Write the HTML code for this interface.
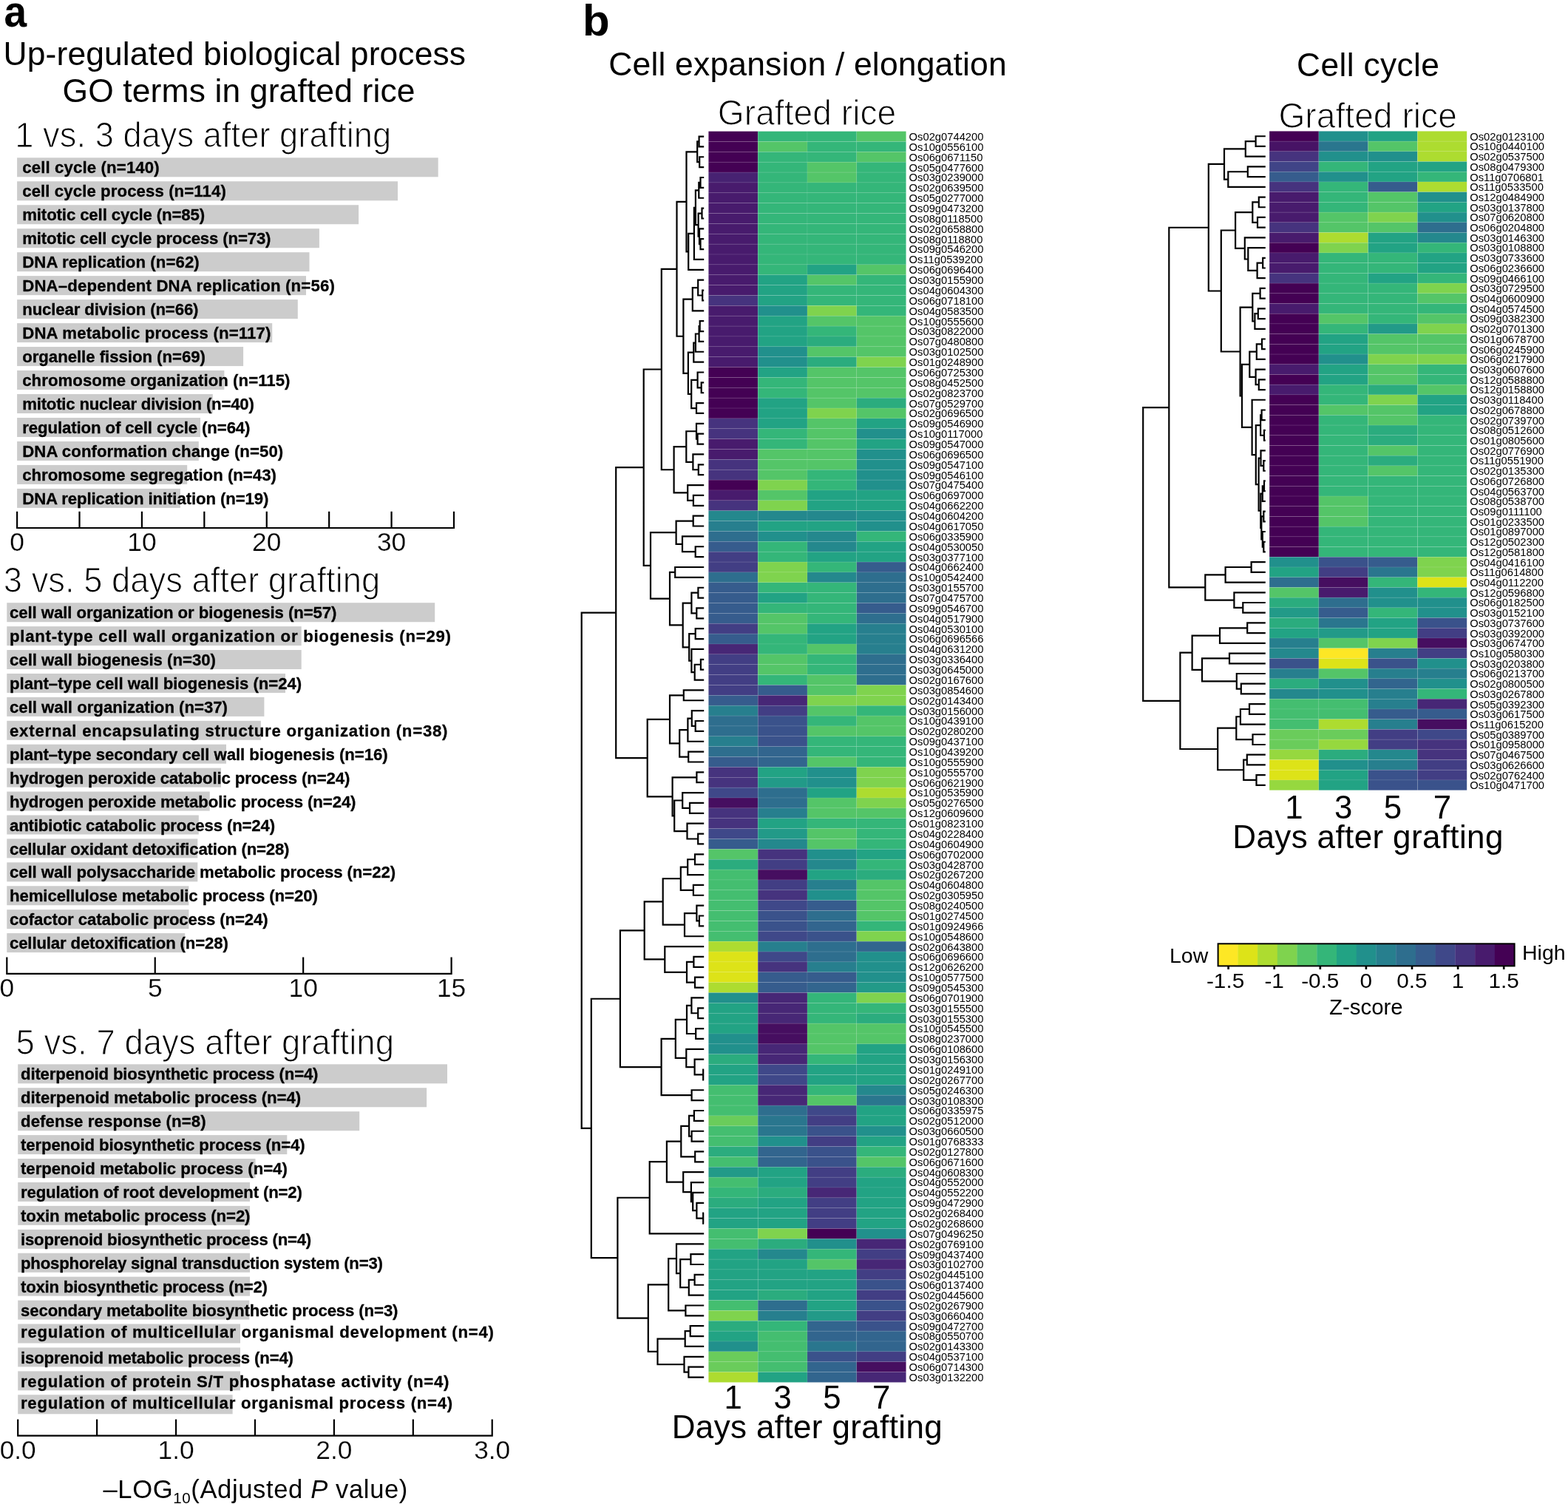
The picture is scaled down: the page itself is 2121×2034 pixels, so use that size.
<!DOCTYPE html>
<html lang="en"><head><meta charset="utf-8"><title>Figure</title>
<style>
html,body{margin:0;padding:0;background:#fff}
svg{display:block}
text{font-family:"Liberation Sans",sans-serif;fill:#000}
.b{font-weight:bold}
.lab{font-weight:bold;font-size:22.2px;stroke:#000;stroke-width:.3px}
.lt{stroke:#fff;stroke-width:1.15px}
.g{font-size:14.75px}
.tk{font-size:35.3px;stroke:#fff;stroke-width:.25px}
.ax{stroke:#000;stroke-width:2.2;fill:none}
.dn{stroke:#000;stroke-width:2.2;fill:none;stroke-linecap:butt;stroke-linejoin:miter}
.hm rect{stroke:rgba(255,255,255,.12);stroke-width:.7}
</style></head><body>
<svg width="2121" height="2034" viewBox="0 0 2121 2034">
<rect width="2121" height="2034" fill="#fff"/>
<text x="5.4" y="35.5" class="b" font-size="58.8" textLength="30.6" lengthAdjust="spacingAndGlyphs">a</text>
<text x="4.6" y="88.3" font-size="44.4" textLength="625.4" lengthAdjust="spacing">Up-regulated biological process</text>
<text x="84.5" y="137.8" font-size="44.4" textLength="477" lengthAdjust="spacing">GO terms in grafted rice</text>
<text x="20.3" y="199.2" class="lt" font-size="47.6" textLength="509" lengthAdjust="spacingAndGlyphs">1 vs. 3 days after grafting</text>
<g fill="#ccc">
<rect x="23.1" y="213.3" width="569.6" height="26"/>
<rect x="23.1" y="245.27" width="514.9" height="26"/>
<rect x="23.1" y="277.24" width="462" height="26"/>
<rect x="23.1" y="309.21" width="408.8" height="26"/>
<rect x="23.1" y="341.18" width="395.4" height="26"/>
<rect x="23.1" y="373.15" width="390.9" height="26"/>
<rect x="23.1" y="405.12" width="379.7" height="26"/>
<rect x="23.1" y="437.09" width="345.1" height="26"/>
<rect x="23.1" y="469.06" width="306" height="26"/>
<rect x="23.1" y="501.03" width="280.3" height="26"/>
<rect x="23.1" y="533" width="264.7" height="26"/>
<rect x="23.1" y="564.97" width="247.9" height="26"/>
<rect x="23.1" y="596.94" width="245.7" height="26"/>
<rect x="23.1" y="628.91" width="230.1" height="26"/>
<rect x="23.1" y="660.88" width="220.8" height="26"/>
</g>
<text x="30.2" y="234.4" class="lab" textLength="185.5" lengthAdjust="spacing">cell cycle (n=140)</text>
<text x="30.2" y="266.37" class="lab" textLength="275.6" lengthAdjust="spacing">cell cycle process (n=114)</text>
<text x="30.2" y="298.34" class="lab" textLength="246.9" lengthAdjust="spacing">mitotic cell cycle (n=85)</text>
<text x="30.2" y="330.31" class="lab" textLength="336.3" lengthAdjust="spacing">mitotic cell cycle process (n=73)</text>
<text x="30.2" y="362.28" class="lab" textLength="239.5" lengthAdjust="spacing">DNA replication (n=62)</text>
<text x="30.2" y="394.25" class="lab" textLength="422.6" lengthAdjust="spacing">DNA–dependent DNA replication (n=56)</text>
<text x="30.2" y="426.22" class="lab" textLength="238.3" lengthAdjust="spacing">nuclear division (n=66)</text>
<text x="30.2" y="458.19" class="lab" textLength="336.3" lengthAdjust="spacing">DNA metabolic process (n=117)</text>
<text x="30.2" y="490.16" class="lab" textLength="247.7" lengthAdjust="spacing">organelle fission (n=69)</text>
<text x="30.2" y="522.13" class="lab" textLength="362.3" lengthAdjust="spacing">chromosome organization (n=115)</text>
<text x="30.2" y="554.1" class="lab" textLength="313.6" lengthAdjust="spacing">mitotic nuclear division (n=40)</text>
<text x="30.2" y="586.07" class="lab" textLength="308.3" lengthAdjust="spacing">regulation of cell cycle (n=64)</text>
<text x="30.2" y="618.04" class="lab" textLength="353" lengthAdjust="spacing">DNA conformation change (n=50)</text>
<text x="30.2" y="650.01" class="lab" textLength="343.7" lengthAdjust="spacing">chromosome segregation (n=43)</text>
<text x="30.2" y="681.98" class="lab" textLength="333.3" lengthAdjust="spacing">DNA replication initiation (n=19)</text>
<path class="ax" d="M22 714H615.07M23.1 691.7V714M107.51 691.7V714M191.92 691.7V714M276.33 691.7V714M360.74 691.7V714M445.15 691.7V714M529.56 691.7V714M613.97 691.7V714"/>
<text x="23.1" y="744.7" class="tk" text-anchor="middle">0</text>
<text x="191.92" y="744.7" class="tk" text-anchor="middle">10</text>
<text x="360.74" y="744.7" class="tk" text-anchor="middle">20</text>
<text x="529.56" y="744.7" class="tk" text-anchor="middle">30</text>
<text x="4.8" y="801" class="lt" font-size="47.6" textLength="509.4" lengthAdjust="spacingAndGlyphs">3 vs. 5 days after grafting</text>
<g fill="#ccc">
<rect x="9.3" y="815.2" width="578.9" height="26"/>
<rect x="9.3" y="847.12" width="398.4" height="26"/>
<rect x="9.3" y="879.04" width="398.4" height="26"/>
<rect x="9.3" y="910.96" width="376.7" height="26"/>
<rect x="9.3" y="942.88" width="348.1" height="26"/>
<rect x="9.3" y="974.8" width="343.6" height="26"/>
<rect x="9.3" y="1006.72" width="296.7" height="26"/>
<rect x="9.3" y="1038.64" width="289.7" height="26"/>
<rect x="9.3" y="1070.56" width="274.4" height="26"/>
<rect x="9.3" y="1102.48" width="259.5" height="26"/>
<rect x="9.3" y="1134.4" width="258" height="26"/>
<rect x="9.3" y="1166.32" width="258" height="26"/>
<rect x="9.3" y="1198.24" width="246.1" height="26"/>
<rect x="9.3" y="1230.16" width="246.1" height="26"/>
<rect x="9.3" y="1262.08" width="240.9" height="26"/>
</g>
<text x="13" y="836.3" class="lab" textLength="442.5" lengthAdjust="spacing">cell wall organization or biogenesis (n=57)</text>
<text x="13" y="868.22" class="lab" textLength="597" lengthAdjust="spacing">plant-type cell wall organization or biogenesis (n=29)</text>
<text x="13" y="900.14" class="lab" textLength="279" lengthAdjust="spacing">cell wall biogenesis (n=30)</text>
<text x="13" y="932.06" class="lab" textLength="395.2" lengthAdjust="spacing">plant–type cell wall biogenesis (n=24)</text>
<text x="13" y="963.98" class="lab" textLength="295" lengthAdjust="spacing">cell wall organization (n=37)</text>
<text x="13" y="995.9" class="lab" textLength="592.5" lengthAdjust="spacing">external encapsulating structure organization (n=38)</text>
<text x="13" y="1027.82" class="lab" textLength="511.7" lengthAdjust="spacing">plant–type secondary cell wall biogenesis (n=16)</text>
<text x="13" y="1059.74" class="lab" textLength="460.3" lengthAdjust="spacing">hydrogen peroxide catabolic process (n=24)</text>
<text x="13" y="1091.66" class="lab" textLength="468.5" lengthAdjust="spacing">hydrogen peroxide metabolic process (n=24)</text>
<text x="13" y="1123.58" class="lab" textLength="359.1" lengthAdjust="spacing">antibiotic catabolic process (n=24)</text>
<text x="13" y="1155.5" class="lab" textLength="378.5" lengthAdjust="spacing">cellular oxidant detoxification (n=28)</text>
<text x="13" y="1187.42" class="lab" textLength="522.1" lengthAdjust="spacing">cell wall polysaccharide metabolic process (n=22)</text>
<text x="13" y="1219.34" class="lab" textLength="416.8" lengthAdjust="spacing">hemicellulose metabolic process (n=20)</text>
<text x="13" y="1251.26" class="lab" textLength="349.7" lengthAdjust="spacing">cofactor catabolic process (n=24)</text>
<text x="13" y="1283.18" class="lab" textLength="295.8" lengthAdjust="spacing">cellular detoxification (n=28)</text>
<path class="ax" d="M8.2 1316.8H611.69M9.3 1294.6V1316.8M209.73 1294.6V1316.8M410.16 1294.6V1316.8M610.59 1294.6V1316.8"/>
<text x="9.3" y="1347.6" class="tk" text-anchor="middle">0</text>
<text x="209.73" y="1347.6" class="tk" text-anchor="middle">5</text>
<text x="410.16" y="1347.6" class="tk" text-anchor="middle">10</text>
<text x="610.59" y="1347.6" class="tk" text-anchor="middle">15</text>
<text x="21.6" y="1425.7" class="lt" font-size="47.6" textLength="511.4" lengthAdjust="spacingAndGlyphs">5 vs. 7 days after grafting</text>
<g fill="#ccc">
<rect x="24.2" y="1439.3" width="580.8" height="26"/>
<rect x="24.2" y="1471.23" width="552.9" height="26"/>
<rect x="24.2" y="1503.16" width="462" height="26"/>
<rect x="24.2" y="1535.09" width="364.1" height="26"/>
<rect x="24.2" y="1567.02" width="321.3" height="26"/>
<rect x="24.2" y="1598.95" width="313.8" height="26"/>
<rect x="24.2" y="1630.88" width="313.8" height="26"/>
<rect x="24.2" y="1662.81" width="313.8" height="26"/>
<rect x="24.2" y="1694.74" width="313.8" height="26"/>
<rect x="24.2" y="1726.67" width="313.8" height="26"/>
<rect x="24.2" y="1758.6" width="313.1" height="26"/>
<rect x="24.2" y="1790.53" width="300.8" height="26"/>
<rect x="24.2" y="1822.46" width="300.8" height="26"/>
<rect x="24.2" y="1854.39" width="300.8" height="26"/>
<rect x="24.2" y="1886.32" width="290.4" height="26"/>
</g>
<text x="28" y="1460.4" class="lab" textLength="402.5" lengthAdjust="spacing">diterpenoid biosynthetic process (n=4)</text>
<text x="28" y="1492.33" class="lab" textLength="379.1" lengthAdjust="spacing">diterpenoid metabolic process (n=4)</text>
<text x="28" y="1524.26" class="lab" textLength="250.6" lengthAdjust="spacing">defense response (n=8)</text>
<text x="28" y="1556.19" class="lab" textLength="384.6" lengthAdjust="spacing">terpenoid biosynthetic process (n=4)</text>
<text x="28" y="1588.12" class="lab" textLength="360.8" lengthAdjust="spacing">terpenoid metabolic process (n=4)</text>
<text x="28" y="1620.05" class="lab" textLength="380.9" lengthAdjust="spacing">regulation of root development (n=2)</text>
<text x="28" y="1651.98" class="lab" textLength="310.5" lengthAdjust="spacing">toxin metabolic process (n=2)</text>
<text x="28" y="1683.91" class="lab" textLength="393.2" lengthAdjust="spacing">isoprenoid biosynthetic process (n=4)</text>
<text x="28" y="1715.84" class="lab" textLength="490" lengthAdjust="spacing">phosphorelay signal transduction system (n=3)</text>
<text x="28" y="1747.77" class="lab" textLength="334" lengthAdjust="spacing">toxin biosynthetic process (n=2)</text>
<text x="28" y="1779.7" class="lab" textLength="510.5" lengthAdjust="spacing">secondary metabolite biosynthetic process (n=3)</text>
<text x="28" y="1809.03" class="lab" textLength="640" lengthAdjust="spacing">regulation of multicellular organismal development (n=4)</text>
<text x="28" y="1844.06" class="lab" textLength="369" lengthAdjust="spacing">isoprenoid metabolic process (n=4)</text>
<text x="28" y="1875.79" class="lab" textLength="579.4" lengthAdjust="spacing">regulation of protein S/T phosphatase activity (n=4)</text>
<text x="28" y="1904.72" class="lab" textLength="584.2" lengthAdjust="spacing">regulation of multicellular organismal process (n=4)</text>
<path class="ax" d="M23.1 1941.6H666.82M24.2 1919.6V1941.6M131.12 1919.6V1941.6M238.04 1919.6V1941.6M344.96 1919.6V1941.6M451.88 1919.6V1941.6M558.8 1919.6V1941.6M665.72 1919.6V1941.6"/>
<text x="24.2" y="1972.9" class="tk" text-anchor="middle">0.0</text>
<text x="238.04" y="1972.9" class="tk" text-anchor="middle">1.0</text>
<text x="451.88" y="1972.9" class="tk" text-anchor="middle">2.0</text>
<text x="665.72" y="1972.9" class="tk" text-anchor="middle">3.0</text>
<text x="139.5" y="2026.3" font-size="34.6" letter-spacing="0.62">–LOG<tspan font-size="20.5" dy="6.3">10</tspan><tspan dy="-6.3">(Adjusted </tspan><tspan font-style="italic">P</tspan> value)</text>
<text x="788" y="48" class="b" font-size="60">b</text>
<text x="823.3" y="101.9" font-size="44.5" textLength="538.4" lengthAdjust="spacing">Cell expansion / elongation</text>
<text x="970.8" y="168.9" class="lt" font-size="47.2" textLength="241.4" lengthAdjust="spacingAndGlyphs">Grafted rice</text>
<text x="1754.1" y="102.9" font-size="44.3" textLength="192.8" lengthAdjust="spacing">Cell cycle</text>
<text x="1729.4" y="173.2" class="lt" font-size="47.2" textLength="241.5" lengthAdjust="spacingAndGlyphs">Grafted rice</text>
<g class="hm">
<rect x="958.4" y="177.6" width="66.8" height="13.87" fill="#440154"/>
<rect x="1025.2" y="177.6" width="66.8" height="13.87" fill="#34b679"/>
<rect x="1092" y="177.6" width="66.8" height="13.87" fill="#34b679"/>
<rect x="1158.8" y="177.6" width="66.8" height="13.87" fill="#54c568"/>
<rect x="958.4" y="191.47" width="66.8" height="13.87" fill="#440154"/>
<rect x="1025.2" y="191.47" width="66.8" height="13.87" fill="#54c568"/>
<rect x="1092" y="191.47" width="66.8" height="13.87" fill="#34b679"/>
<rect x="1158.8" y="191.47" width="66.8" height="13.87" fill="#34b679"/>
<rect x="958.4" y="205.34" width="66.8" height="13.87" fill="#440154"/>
<rect x="1025.2" y="205.34" width="66.8" height="13.87" fill="#34b679"/>
<rect x="1092" y="205.34" width="66.8" height="13.87" fill="#34b679"/>
<rect x="1158.8" y="205.34" width="66.8" height="13.87" fill="#54c568"/>
<rect x="958.4" y="219.2" width="66.8" height="13.87" fill="#440154"/>
<rect x="1025.2" y="219.2" width="66.8" height="13.87" fill="#34b679"/>
<rect x="1092" y="219.2" width="66.8" height="13.87" fill="#54c568"/>
<rect x="1158.8" y="219.2" width="66.8" height="13.87" fill="#34b679"/>
<rect x="958.4" y="233.07" width="66.8" height="13.87" fill="#472272"/>
<rect x="1025.2" y="233.07" width="66.8" height="13.87" fill="#34b679"/>
<rect x="1092" y="233.07" width="66.8" height="13.87" fill="#54c568"/>
<rect x="1158.8" y="233.07" width="66.8" height="13.87" fill="#34b679"/>
<rect x="958.4" y="246.94" width="66.8" height="13.87" fill="#481b6d"/>
<rect x="1025.2" y="246.94" width="66.8" height="13.87" fill="#34b679"/>
<rect x="1092" y="246.94" width="66.8" height="13.87" fill="#34b679"/>
<rect x="1158.8" y="246.94" width="66.8" height="13.87" fill="#34b679"/>
<rect x="958.4" y="260.81" width="66.8" height="13.87" fill="#481b6d"/>
<rect x="1025.2" y="260.81" width="66.8" height="13.87" fill="#34b679"/>
<rect x="1092" y="260.81" width="66.8" height="13.87" fill="#34b679"/>
<rect x="1158.8" y="260.81" width="66.8" height="13.87" fill="#34b679"/>
<rect x="958.4" y="274.68" width="66.8" height="13.87" fill="#481b6d"/>
<rect x="1025.2" y="274.68" width="66.8" height="13.87" fill="#34b679"/>
<rect x="1092" y="274.68" width="66.8" height="13.87" fill="#34b679"/>
<rect x="1158.8" y="274.68" width="66.8" height="13.87" fill="#34b679"/>
<rect x="958.4" y="288.54" width="66.8" height="13.87" fill="#481b6d"/>
<rect x="1025.2" y="288.54" width="66.8" height="13.87" fill="#34b679"/>
<rect x="1092" y="288.54" width="66.8" height="13.87" fill="#34b679"/>
<rect x="1158.8" y="288.54" width="66.8" height="13.87" fill="#34b679"/>
<rect x="958.4" y="302.41" width="66.8" height="13.87" fill="#481b6d"/>
<rect x="1025.2" y="302.41" width="66.8" height="13.87" fill="#34b679"/>
<rect x="1092" y="302.41" width="66.8" height="13.87" fill="#34b679"/>
<rect x="1158.8" y="302.41" width="66.8" height="13.87" fill="#34b679"/>
<rect x="958.4" y="316.28" width="66.8" height="13.87" fill="#481b6d"/>
<rect x="1025.2" y="316.28" width="66.8" height="13.87" fill="#34b679"/>
<rect x="1092" y="316.28" width="66.8" height="13.87" fill="#34b679"/>
<rect x="1158.8" y="316.28" width="66.8" height="13.87" fill="#34b679"/>
<rect x="958.4" y="330.15" width="66.8" height="13.87" fill="#481b6d"/>
<rect x="1025.2" y="330.15" width="66.8" height="13.87" fill="#34b679"/>
<rect x="1092" y="330.15" width="66.8" height="13.87" fill="#34b679"/>
<rect x="1158.8" y="330.15" width="66.8" height="13.87" fill="#34b679"/>
<rect x="958.4" y="344.02" width="66.8" height="13.87" fill="#481b6d"/>
<rect x="1025.2" y="344.02" width="66.8" height="13.87" fill="#34b679"/>
<rect x="1092" y="344.02" width="66.8" height="13.87" fill="#34b679"/>
<rect x="1158.8" y="344.02" width="66.8" height="13.87" fill="#34b679"/>
<rect x="958.4" y="357.88" width="66.8" height="13.87" fill="#481b6d"/>
<rect x="1025.2" y="357.88" width="66.8" height="13.87" fill="#34b679"/>
<rect x="1092" y="357.88" width="66.8" height="13.87" fill="#22a384"/>
<rect x="1158.8" y="357.88" width="66.8" height="13.87" fill="#54c568"/>
<rect x="958.4" y="371.75" width="66.8" height="13.87" fill="#481b6d"/>
<rect x="1025.2" y="371.75" width="66.8" height="13.87" fill="#22a384"/>
<rect x="1092" y="371.75" width="66.8" height="13.87" fill="#54c568"/>
<rect x="1158.8" y="371.75" width="66.8" height="13.87" fill="#34b679"/>
<rect x="958.4" y="385.62" width="66.8" height="13.87" fill="#481b6d"/>
<rect x="1025.2" y="385.62" width="66.8" height="13.87" fill="#22a384"/>
<rect x="1092" y="385.62" width="66.8" height="13.87" fill="#34b679"/>
<rect x="1158.8" y="385.62" width="66.8" height="13.87" fill="#34b679"/>
<rect x="958.4" y="399.49" width="66.8" height="13.87" fill="#46337e"/>
<rect x="1025.2" y="399.49" width="66.8" height="13.87" fill="#22a384"/>
<rect x="1092" y="399.49" width="66.8" height="13.87" fill="#34b679"/>
<rect x="1158.8" y="399.49" width="66.8" height="13.87" fill="#34b679"/>
<rect x="958.4" y="413.36" width="66.8" height="13.87" fill="#481b6d"/>
<rect x="1025.2" y="413.36" width="66.8" height="13.87" fill="#21908c"/>
<rect x="1092" y="413.36" width="66.8" height="13.87" fill="#7fd34e"/>
<rect x="1158.8" y="413.36" width="66.8" height="13.87" fill="#34b679"/>
<rect x="958.4" y="427.22" width="66.8" height="13.87" fill="#481b6d"/>
<rect x="1025.2" y="427.22" width="66.8" height="13.87" fill="#22a384"/>
<rect x="1092" y="427.22" width="66.8" height="13.87" fill="#54c568"/>
<rect x="1158.8" y="427.22" width="66.8" height="13.87" fill="#54c568"/>
<rect x="958.4" y="441.09" width="66.8" height="13.87" fill="#481b6d"/>
<rect x="1025.2" y="441.09" width="66.8" height="13.87" fill="#22a384"/>
<rect x="1092" y="441.09" width="66.8" height="13.87" fill="#34b679"/>
<rect x="1158.8" y="441.09" width="66.8" height="13.87" fill="#54c568"/>
<rect x="958.4" y="454.96" width="66.8" height="13.87" fill="#481b6d"/>
<rect x="1025.2" y="454.96" width="66.8" height="13.87" fill="#22a384"/>
<rect x="1092" y="454.96" width="66.8" height="13.87" fill="#2bac7e"/>
<rect x="1158.8" y="454.96" width="66.8" height="13.87" fill="#54c568"/>
<rect x="958.4" y="468.83" width="66.8" height="13.87" fill="#481b6d"/>
<rect x="1025.2" y="468.83" width="66.8" height="13.87" fill="#21908c"/>
<rect x="1092" y="468.83" width="66.8" height="13.87" fill="#54c568"/>
<rect x="1158.8" y="468.83" width="66.8" height="13.87" fill="#54c568"/>
<rect x="958.4" y="482.7" width="66.8" height="13.87" fill="#481b6d"/>
<rect x="1025.2" y="482.7" width="66.8" height="13.87" fill="#21908c"/>
<rect x="1092" y="482.7" width="66.8" height="13.87" fill="#2bac7e"/>
<rect x="1158.8" y="482.7" width="66.8" height="13.87" fill="#7fd34e"/>
<rect x="958.4" y="496.56" width="66.8" height="13.87" fill="#440154"/>
<rect x="1025.2" y="496.56" width="66.8" height="13.87" fill="#22a384"/>
<rect x="1092" y="496.56" width="66.8" height="13.87" fill="#54c568"/>
<rect x="1158.8" y="496.56" width="66.8" height="13.87" fill="#54c568"/>
<rect x="958.4" y="510.43" width="66.8" height="13.87" fill="#440154"/>
<rect x="1025.2" y="510.43" width="66.8" height="13.87" fill="#34b679"/>
<rect x="1092" y="510.43" width="66.8" height="13.87" fill="#54c568"/>
<rect x="1158.8" y="510.43" width="66.8" height="13.87" fill="#54c568"/>
<rect x="958.4" y="524.3" width="66.8" height="13.87" fill="#440154"/>
<rect x="1025.2" y="524.3" width="66.8" height="13.87" fill="#34b679"/>
<rect x="1092" y="524.3" width="66.8" height="13.87" fill="#54c568"/>
<rect x="1158.8" y="524.3" width="66.8" height="13.87" fill="#54c568"/>
<rect x="958.4" y="538.17" width="66.8" height="13.87" fill="#440154"/>
<rect x="1025.2" y="538.17" width="66.8" height="13.87" fill="#22a384"/>
<rect x="1092" y="538.17" width="66.8" height="13.87" fill="#54c568"/>
<rect x="1158.8" y="538.17" width="66.8" height="13.87" fill="#2bac7e"/>
<rect x="958.4" y="552.04" width="66.8" height="13.87" fill="#440154"/>
<rect x="1025.2" y="552.04" width="66.8" height="13.87" fill="#22a384"/>
<rect x="1092" y="552.04" width="66.8" height="13.87" fill="#7fd34e"/>
<rect x="1158.8" y="552.04" width="66.8" height="13.87" fill="#54c568"/>
<rect x="958.4" y="565.9" width="66.8" height="13.87" fill="#46337e"/>
<rect x="1025.2" y="565.9" width="66.8" height="13.87" fill="#22a384"/>
<rect x="1092" y="565.9" width="66.8" height="13.87" fill="#54c568"/>
<rect x="1158.8" y="565.9" width="66.8" height="13.87" fill="#22a384"/>
<rect x="958.4" y="579.77" width="66.8" height="13.87" fill="#46337e"/>
<rect x="1025.2" y="579.77" width="66.8" height="13.87" fill="#34b679"/>
<rect x="1092" y="579.77" width="66.8" height="13.87" fill="#54c568"/>
<rect x="1158.8" y="579.77" width="66.8" height="13.87" fill="#21908c"/>
<rect x="958.4" y="593.64" width="66.8" height="13.87" fill="#481b6d"/>
<rect x="1025.2" y="593.64" width="66.8" height="13.87" fill="#34b679"/>
<rect x="1092" y="593.64" width="66.8" height="13.87" fill="#54c568"/>
<rect x="1158.8" y="593.64" width="66.8" height="13.87" fill="#22a384"/>
<rect x="958.4" y="607.51" width="66.8" height="13.87" fill="#481b6d"/>
<rect x="1025.2" y="607.51" width="66.8" height="13.87" fill="#54c568"/>
<rect x="1092" y="607.51" width="66.8" height="13.87" fill="#54c568"/>
<rect x="1158.8" y="607.51" width="66.8" height="13.87" fill="#21908c"/>
<rect x="958.4" y="621.38" width="66.8" height="13.87" fill="#46337e"/>
<rect x="1025.2" y="621.38" width="66.8" height="13.87" fill="#54c568"/>
<rect x="1092" y="621.38" width="66.8" height="13.87" fill="#54c568"/>
<rect x="1158.8" y="621.38" width="66.8" height="13.87" fill="#21908c"/>
<rect x="958.4" y="635.24" width="66.8" height="13.87" fill="#46337e"/>
<rect x="1025.2" y="635.24" width="66.8" height="13.87" fill="#54c568"/>
<rect x="1092" y="635.24" width="66.8" height="13.87" fill="#34b679"/>
<rect x="1158.8" y="635.24" width="66.8" height="13.87" fill="#21908c"/>
<rect x="958.4" y="649.11" width="66.8" height="13.87" fill="#440154"/>
<rect x="1025.2" y="649.11" width="66.8" height="13.87" fill="#7fd34e"/>
<rect x="1092" y="649.11" width="66.8" height="13.87" fill="#34b679"/>
<rect x="1158.8" y="649.11" width="66.8" height="13.87" fill="#21908c"/>
<rect x="958.4" y="662.98" width="66.8" height="13.87" fill="#481b6d"/>
<rect x="1025.2" y="662.98" width="66.8" height="13.87" fill="#54c568"/>
<rect x="1092" y="662.98" width="66.8" height="13.87" fill="#22a384"/>
<rect x="1158.8" y="662.98" width="66.8" height="13.87" fill="#22a384"/>
<rect x="958.4" y="676.85" width="66.8" height="13.87" fill="#46337e"/>
<rect x="1025.2" y="676.85" width="66.8" height="13.87" fill="#7fd34e"/>
<rect x="1092" y="676.85" width="66.8" height="13.87" fill="#22a384"/>
<rect x="1158.8" y="676.85" width="66.8" height="13.87" fill="#22a384"/>
<rect x="958.4" y="690.72" width="66.8" height="13.87" fill="#24888d"/>
<rect x="1025.2" y="690.72" width="66.8" height="13.87" fill="#24888d"/>
<rect x="1092" y="690.72" width="66.8" height="13.87" fill="#24888d"/>
<rect x="1158.8" y="690.72" width="66.8" height="13.87" fill="#21908c"/>
<rect x="958.4" y="704.58" width="66.8" height="13.87" fill="#277f8e"/>
<rect x="1025.2" y="704.58" width="66.8" height="13.87" fill="#22a384"/>
<rect x="1092" y="704.58" width="66.8" height="13.87" fill="#22a384"/>
<rect x="1158.8" y="704.58" width="66.8" height="13.87" fill="#21908c"/>
<rect x="958.4" y="718.45" width="66.8" height="13.87" fill="#2e6e8e"/>
<rect x="1025.2" y="718.45" width="66.8" height="13.87" fill="#21908c"/>
<rect x="1092" y="718.45" width="66.8" height="13.87" fill="#24888d"/>
<rect x="1158.8" y="718.45" width="66.8" height="13.87" fill="#34b679"/>
<rect x="958.4" y="732.32" width="66.8" height="13.87" fill="#365c8d"/>
<rect x="1025.2" y="732.32" width="66.8" height="13.87" fill="#34b679"/>
<rect x="1092" y="732.32" width="66.8" height="13.87" fill="#24888d"/>
<rect x="1158.8" y="732.32" width="66.8" height="13.87" fill="#22a384"/>
<rect x="958.4" y="746.19" width="66.8" height="13.87" fill="#423e84"/>
<rect x="1025.2" y="746.19" width="66.8" height="13.87" fill="#34b679"/>
<rect x="1092" y="746.19" width="66.8" height="13.87" fill="#22a384"/>
<rect x="1158.8" y="746.19" width="66.8" height="13.87" fill="#22a384"/>
<rect x="958.4" y="760.06" width="66.8" height="13.87" fill="#423e84"/>
<rect x="1025.2" y="760.06" width="66.8" height="13.87" fill="#7fd34e"/>
<rect x="1092" y="760.06" width="66.8" height="13.87" fill="#34b679"/>
<rect x="1158.8" y="760.06" width="66.8" height="13.87" fill="#365c8d"/>
<rect x="958.4" y="773.92" width="66.8" height="13.87" fill="#2e6e8e"/>
<rect x="1025.2" y="773.92" width="66.8" height="13.87" fill="#7fd34e"/>
<rect x="1092" y="773.92" width="66.8" height="13.87" fill="#24888d"/>
<rect x="1158.8" y="773.92" width="66.8" height="13.87" fill="#2e6e8e"/>
<rect x="958.4" y="787.79" width="66.8" height="13.87" fill="#365c8d"/>
<rect x="1025.2" y="787.79" width="66.8" height="13.87" fill="#34b679"/>
<rect x="1092" y="787.79" width="66.8" height="13.87" fill="#34b679"/>
<rect x="1158.8" y="787.79" width="66.8" height="13.87" fill="#2e6e8e"/>
<rect x="958.4" y="801.66" width="66.8" height="13.87" fill="#365c8d"/>
<rect x="1025.2" y="801.66" width="66.8" height="13.87" fill="#22a384"/>
<rect x="1092" y="801.66" width="66.8" height="13.87" fill="#34b679"/>
<rect x="1158.8" y="801.66" width="66.8" height="13.87" fill="#2e6e8e"/>
<rect x="958.4" y="815.53" width="66.8" height="13.87" fill="#365c8d"/>
<rect x="1025.2" y="815.53" width="66.8" height="13.87" fill="#34b679"/>
<rect x="1092" y="815.53" width="66.8" height="13.87" fill="#34b679"/>
<rect x="1158.8" y="815.53" width="66.8" height="13.87" fill="#365c8d"/>
<rect x="958.4" y="829.4" width="66.8" height="13.87" fill="#365c8d"/>
<rect x="1025.2" y="829.4" width="66.8" height="13.87" fill="#54c568"/>
<rect x="1092" y="829.4" width="66.8" height="13.87" fill="#34b679"/>
<rect x="1158.8" y="829.4" width="66.8" height="13.87" fill="#2e6e8e"/>
<rect x="958.4" y="843.26" width="66.8" height="13.87" fill="#423e84"/>
<rect x="1025.2" y="843.26" width="66.8" height="13.87" fill="#54c568"/>
<rect x="1092" y="843.26" width="66.8" height="13.87" fill="#22a384"/>
<rect x="1158.8" y="843.26" width="66.8" height="13.87" fill="#277f8e"/>
<rect x="958.4" y="857.13" width="66.8" height="13.87" fill="#365c8d"/>
<rect x="1025.2" y="857.13" width="66.8" height="13.87" fill="#34b679"/>
<rect x="1092" y="857.13" width="66.8" height="13.87" fill="#22a384"/>
<rect x="1158.8" y="857.13" width="66.8" height="13.87" fill="#277f8e"/>
<rect x="958.4" y="871" width="66.8" height="13.87" fill="#472776"/>
<rect x="1025.2" y="871" width="66.8" height="13.87" fill="#34b679"/>
<rect x="1092" y="871" width="66.8" height="13.87" fill="#54c568"/>
<rect x="1158.8" y="871" width="66.8" height="13.87" fill="#277f8e"/>
<rect x="958.4" y="884.87" width="66.8" height="13.87" fill="#423e84"/>
<rect x="1025.2" y="884.87" width="66.8" height="13.87" fill="#54c568"/>
<rect x="1092" y="884.87" width="66.8" height="13.87" fill="#34b679"/>
<rect x="1158.8" y="884.87" width="66.8" height="13.87" fill="#2e6e8e"/>
<rect x="958.4" y="898.74" width="66.8" height="13.87" fill="#423e84"/>
<rect x="1025.2" y="898.74" width="66.8" height="13.87" fill="#54c568"/>
<rect x="1092" y="898.74" width="66.8" height="13.87" fill="#34b679"/>
<rect x="1158.8" y="898.74" width="66.8" height="13.87" fill="#2e6e8e"/>
<rect x="958.4" y="912.6" width="66.8" height="13.87" fill="#423e84"/>
<rect x="1025.2" y="912.6" width="66.8" height="13.87" fill="#34b679"/>
<rect x="1092" y="912.6" width="66.8" height="13.87" fill="#54c568"/>
<rect x="1158.8" y="912.6" width="66.8" height="13.87" fill="#2e6e8e"/>
<rect x="958.4" y="926.47" width="66.8" height="13.87" fill="#423e84"/>
<rect x="1025.2" y="926.47" width="66.8" height="13.87" fill="#365c8d"/>
<rect x="1092" y="926.47" width="66.8" height="13.87" fill="#54c568"/>
<rect x="1158.8" y="926.47" width="66.8" height="13.87" fill="#7fd34e"/>
<rect x="958.4" y="940.34" width="66.8" height="13.87" fill="#365c8d"/>
<rect x="1025.2" y="940.34" width="66.8" height="13.87" fill="#472776"/>
<rect x="1092" y="940.34" width="66.8" height="13.87" fill="#7fd34e"/>
<rect x="1158.8" y="940.34" width="66.8" height="13.87" fill="#7fd34e"/>
<rect x="958.4" y="954.21" width="66.8" height="13.87" fill="#277f8e"/>
<rect x="1025.2" y="954.21" width="66.8" height="13.87" fill="#423e84"/>
<rect x="1092" y="954.21" width="66.8" height="13.87" fill="#54c568"/>
<rect x="1158.8" y="954.21" width="66.8" height="13.87" fill="#34b679"/>
<rect x="958.4" y="968.08" width="66.8" height="13.87" fill="#2e6e8e"/>
<rect x="1025.2" y="968.08" width="66.8" height="13.87" fill="#3a528b"/>
<rect x="1092" y="968.08" width="66.8" height="13.87" fill="#34b679"/>
<rect x="1158.8" y="968.08" width="66.8" height="13.87" fill="#54c568"/>
<rect x="958.4" y="981.94" width="66.8" height="13.87" fill="#2e6e8e"/>
<rect x="1025.2" y="981.94" width="66.8" height="13.87" fill="#3a528b"/>
<rect x="1092" y="981.94" width="66.8" height="13.87" fill="#54c568"/>
<rect x="1158.8" y="981.94" width="66.8" height="13.87" fill="#54c568"/>
<rect x="958.4" y="995.81" width="66.8" height="13.87" fill="#277f8e"/>
<rect x="1025.2" y="995.81" width="66.8" height="13.87" fill="#3a528b"/>
<rect x="1092" y="995.81" width="66.8" height="13.87" fill="#34b679"/>
<rect x="1158.8" y="995.81" width="66.8" height="13.87" fill="#34b679"/>
<rect x="958.4" y="1009.68" width="66.8" height="13.87" fill="#2e6e8e"/>
<rect x="1025.2" y="1009.68" width="66.8" height="13.87" fill="#32658e"/>
<rect x="1092" y="1009.68" width="66.8" height="13.87" fill="#34b679"/>
<rect x="1158.8" y="1009.68" width="66.8" height="13.87" fill="#34b679"/>
<rect x="958.4" y="1023.55" width="66.8" height="13.87" fill="#365c8d"/>
<rect x="1025.2" y="1023.55" width="66.8" height="13.87" fill="#32658e"/>
<rect x="1092" y="1023.55" width="66.8" height="13.87" fill="#54c568"/>
<rect x="1158.8" y="1023.55" width="66.8" height="13.87" fill="#34b679"/>
<rect x="958.4" y="1037.42" width="66.8" height="13.87" fill="#46337e"/>
<rect x="1025.2" y="1037.42" width="66.8" height="13.87" fill="#22a384"/>
<rect x="1092" y="1037.42" width="66.8" height="13.87" fill="#21908c"/>
<rect x="1158.8" y="1037.42" width="66.8" height="13.87" fill="#7fd34e"/>
<rect x="958.4" y="1051.28" width="66.8" height="13.87" fill="#46337e"/>
<rect x="1025.2" y="1051.28" width="66.8" height="13.87" fill="#229a88"/>
<rect x="1092" y="1051.28" width="66.8" height="13.87" fill="#21908c"/>
<rect x="1158.8" y="1051.28" width="66.8" height="13.87" fill="#7fd34e"/>
<rect x="958.4" y="1065.15" width="66.8" height="13.87" fill="#3f4889"/>
<rect x="1025.2" y="1065.15" width="66.8" height="13.87" fill="#2e6e8e"/>
<rect x="1092" y="1065.15" width="66.8" height="13.87" fill="#22a384"/>
<rect x="1158.8" y="1065.15" width="66.8" height="13.87" fill="#addc30"/>
<rect x="958.4" y="1079.02" width="66.8" height="13.87" fill="#460e60"/>
<rect x="1025.2" y="1079.02" width="66.8" height="13.87" fill="#2e6e8e"/>
<rect x="1092" y="1079.02" width="66.8" height="13.87" fill="#54c568"/>
<rect x="1158.8" y="1079.02" width="66.8" height="13.87" fill="#7fd34e"/>
<rect x="958.4" y="1092.89" width="66.8" height="13.87" fill="#46337e"/>
<rect x="1025.2" y="1092.89" width="66.8" height="13.87" fill="#277f8e"/>
<rect x="1092" y="1092.89" width="66.8" height="13.87" fill="#54c568"/>
<rect x="1158.8" y="1092.89" width="66.8" height="13.87" fill="#54c568"/>
<rect x="958.4" y="1106.76" width="66.8" height="13.87" fill="#46337e"/>
<rect x="1025.2" y="1106.76" width="66.8" height="13.87" fill="#22a384"/>
<rect x="1092" y="1106.76" width="66.8" height="13.87" fill="#34b679"/>
<rect x="1158.8" y="1106.76" width="66.8" height="13.87" fill="#34b679"/>
<rect x="958.4" y="1120.62" width="66.8" height="13.87" fill="#3f4889"/>
<rect x="1025.2" y="1120.62" width="66.8" height="13.87" fill="#229a88"/>
<rect x="1092" y="1120.62" width="66.8" height="13.87" fill="#54c568"/>
<rect x="1158.8" y="1120.62" width="66.8" height="13.87" fill="#34b679"/>
<rect x="958.4" y="1134.49" width="66.8" height="13.87" fill="#365c8d"/>
<rect x="1025.2" y="1134.49" width="66.8" height="13.87" fill="#24888d"/>
<rect x="1092" y="1134.49" width="66.8" height="13.87" fill="#54c568"/>
<rect x="1158.8" y="1134.49" width="66.8" height="13.87" fill="#34b679"/>
<rect x="958.4" y="1148.36" width="66.8" height="13.87" fill="#54c568"/>
<rect x="1025.2" y="1148.36" width="66.8" height="13.87" fill="#46337e"/>
<rect x="1092" y="1148.36" width="66.8" height="13.87" fill="#21908c"/>
<rect x="1158.8" y="1148.36" width="66.8" height="13.87" fill="#22a384"/>
<rect x="958.4" y="1162.23" width="66.8" height="13.87" fill="#2bac7e"/>
<rect x="1025.2" y="1162.23" width="66.8" height="13.87" fill="#423e84"/>
<rect x="1092" y="1162.23" width="66.8" height="13.87" fill="#24888d"/>
<rect x="1158.8" y="1162.23" width="66.8" height="13.87" fill="#34b679"/>
<rect x="958.4" y="1176.1" width="66.8" height="13.87" fill="#44be70"/>
<rect x="1025.2" y="1176.1" width="66.8" height="13.87" fill="#460e60"/>
<rect x="1092" y="1176.1" width="66.8" height="13.87" fill="#22a384"/>
<rect x="1158.8" y="1176.1" width="66.8" height="13.87" fill="#2bac7e"/>
<rect x="958.4" y="1189.96" width="66.8" height="13.87" fill="#44be70"/>
<rect x="1025.2" y="1189.96" width="66.8" height="13.87" fill="#423e84"/>
<rect x="1092" y="1189.96" width="66.8" height="13.87" fill="#277f8e"/>
<rect x="1158.8" y="1189.96" width="66.8" height="13.87" fill="#54c568"/>
<rect x="958.4" y="1203.83" width="66.8" height="13.87" fill="#44be70"/>
<rect x="1025.2" y="1203.83" width="66.8" height="13.87" fill="#46337e"/>
<rect x="1092" y="1203.83" width="66.8" height="13.87" fill="#21908c"/>
<rect x="1158.8" y="1203.83" width="66.8" height="13.87" fill="#54c568"/>
<rect x="958.4" y="1217.7" width="66.8" height="13.87" fill="#44be70"/>
<rect x="1025.2" y="1217.7" width="66.8" height="13.87" fill="#3f4889"/>
<rect x="1092" y="1217.7" width="66.8" height="13.87" fill="#365c8d"/>
<rect x="1158.8" y="1217.7" width="66.8" height="13.87" fill="#54c568"/>
<rect x="958.4" y="1231.57" width="66.8" height="13.87" fill="#44be70"/>
<rect x="1025.2" y="1231.57" width="66.8" height="13.87" fill="#3a528b"/>
<rect x="1092" y="1231.57" width="66.8" height="13.87" fill="#2e6e8e"/>
<rect x="1158.8" y="1231.57" width="66.8" height="13.87" fill="#54c568"/>
<rect x="958.4" y="1245.44" width="66.8" height="13.87" fill="#44be70"/>
<rect x="1025.2" y="1245.44" width="66.8" height="13.87" fill="#3a528b"/>
<rect x="1092" y="1245.44" width="66.8" height="13.87" fill="#32658e"/>
<rect x="1158.8" y="1245.44" width="66.8" height="13.87" fill="#34b679"/>
<rect x="958.4" y="1259.3" width="66.8" height="13.87" fill="#44be70"/>
<rect x="1025.2" y="1259.3" width="66.8" height="13.87" fill="#3f4889"/>
<rect x="1092" y="1259.3" width="66.8" height="13.87" fill="#3a528b"/>
<rect x="1158.8" y="1259.3" width="66.8" height="13.87" fill="#7fd34e"/>
<rect x="958.4" y="1273.17" width="66.8" height="13.87" fill="#addc30"/>
<rect x="1025.2" y="1273.17" width="66.8" height="13.87" fill="#277f8e"/>
<rect x="1092" y="1273.17" width="66.8" height="13.87" fill="#2e6e8e"/>
<rect x="1158.8" y="1273.17" width="66.8" height="13.87" fill="#32658e"/>
<rect x="958.4" y="1287.04" width="66.8" height="13.87" fill="#dde318"/>
<rect x="1025.2" y="1287.04" width="66.8" height="13.87" fill="#3f4889"/>
<rect x="1092" y="1287.04" width="66.8" height="13.87" fill="#2e6e8e"/>
<rect x="1158.8" y="1287.04" width="66.8" height="13.87" fill="#21908c"/>
<rect x="958.4" y="1300.91" width="66.8" height="13.87" fill="#dde318"/>
<rect x="1025.2" y="1300.91" width="66.8" height="13.87" fill="#46337e"/>
<rect x="1092" y="1300.91" width="66.8" height="13.87" fill="#277f8e"/>
<rect x="1158.8" y="1300.91" width="66.8" height="13.87" fill="#21908c"/>
<rect x="958.4" y="1314.78" width="66.8" height="13.87" fill="#dde318"/>
<rect x="1025.2" y="1314.78" width="66.8" height="13.87" fill="#365c8d"/>
<rect x="1092" y="1314.78" width="66.8" height="13.87" fill="#365c8d"/>
<rect x="1158.8" y="1314.78" width="66.8" height="13.87" fill="#21908c"/>
<rect x="958.4" y="1328.64" width="66.8" height="13.87" fill="#addc30"/>
<rect x="1025.2" y="1328.64" width="66.8" height="13.87" fill="#365c8d"/>
<rect x="1092" y="1328.64" width="66.8" height="13.87" fill="#32658e"/>
<rect x="1158.8" y="1328.64" width="66.8" height="13.87" fill="#229a88"/>
<rect x="958.4" y="1342.51" width="66.8" height="13.87" fill="#21908c"/>
<rect x="1025.2" y="1342.51" width="66.8" height="13.87" fill="#472776"/>
<rect x="1092" y="1342.51" width="66.8" height="13.87" fill="#34b679"/>
<rect x="1158.8" y="1342.51" width="66.8" height="13.87" fill="#7fd34e"/>
<rect x="958.4" y="1356.38" width="66.8" height="13.87" fill="#22a384"/>
<rect x="1025.2" y="1356.38" width="66.8" height="13.87" fill="#472776"/>
<rect x="1092" y="1356.38" width="66.8" height="13.87" fill="#34b679"/>
<rect x="1158.8" y="1356.38" width="66.8" height="13.87" fill="#34b679"/>
<rect x="958.4" y="1370.25" width="66.8" height="13.87" fill="#22a384"/>
<rect x="1025.2" y="1370.25" width="66.8" height="13.87" fill="#472776"/>
<rect x="1092" y="1370.25" width="66.8" height="13.87" fill="#34b679"/>
<rect x="1158.8" y="1370.25" width="66.8" height="13.87" fill="#2bac7e"/>
<rect x="958.4" y="1384.12" width="66.8" height="13.87" fill="#22a384"/>
<rect x="1025.2" y="1384.12" width="66.8" height="13.87" fill="#460e60"/>
<rect x="1092" y="1384.12" width="66.8" height="13.87" fill="#54c568"/>
<rect x="1158.8" y="1384.12" width="66.8" height="13.87" fill="#54c568"/>
<rect x="958.4" y="1397.98" width="66.8" height="13.87" fill="#21908c"/>
<rect x="1025.2" y="1397.98" width="66.8" height="13.87" fill="#460e60"/>
<rect x="1092" y="1397.98" width="66.8" height="13.87" fill="#54c568"/>
<rect x="1158.8" y="1397.98" width="66.8" height="13.87" fill="#54c568"/>
<rect x="958.4" y="1411.85" width="66.8" height="13.87" fill="#21908c"/>
<rect x="1025.2" y="1411.85" width="66.8" height="13.87" fill="#472776"/>
<rect x="1092" y="1411.85" width="66.8" height="13.87" fill="#54c568"/>
<rect x="1158.8" y="1411.85" width="66.8" height="13.87" fill="#22a384"/>
<rect x="958.4" y="1425.72" width="66.8" height="13.87" fill="#2bac7e"/>
<rect x="1025.2" y="1425.72" width="66.8" height="13.87" fill="#472776"/>
<rect x="1092" y="1425.72" width="66.8" height="13.87" fill="#34b679"/>
<rect x="1158.8" y="1425.72" width="66.8" height="13.87" fill="#22a384"/>
<rect x="958.4" y="1439.59" width="66.8" height="13.87" fill="#22a384"/>
<rect x="1025.2" y="1439.59" width="66.8" height="13.87" fill="#3f4889"/>
<rect x="1092" y="1439.59" width="66.8" height="13.87" fill="#22a384"/>
<rect x="1158.8" y="1439.59" width="66.8" height="13.87" fill="#22a384"/>
<rect x="958.4" y="1453.46" width="66.8" height="13.87" fill="#22a384"/>
<rect x="1025.2" y="1453.46" width="66.8" height="13.87" fill="#3f4889"/>
<rect x="1092" y="1453.46" width="66.8" height="13.87" fill="#22a384"/>
<rect x="1158.8" y="1453.46" width="66.8" height="13.87" fill="#22a384"/>
<rect x="958.4" y="1467.32" width="66.8" height="13.87" fill="#44be70"/>
<rect x="1025.2" y="1467.32" width="66.8" height="13.87" fill="#472776"/>
<rect x="1092" y="1467.32" width="66.8" height="13.87" fill="#34b679"/>
<rect x="1158.8" y="1467.32" width="66.8" height="13.87" fill="#24888d"/>
<rect x="958.4" y="1481.19" width="66.8" height="13.87" fill="#44be70"/>
<rect x="1025.2" y="1481.19" width="66.8" height="13.87" fill="#472776"/>
<rect x="1092" y="1481.19" width="66.8" height="13.87" fill="#54c568"/>
<rect x="1158.8" y="1481.19" width="66.8" height="13.87" fill="#2a768e"/>
<rect x="958.4" y="1495.06" width="66.8" height="13.87" fill="#44be70"/>
<rect x="1025.2" y="1495.06" width="66.8" height="13.87" fill="#2e6e8e"/>
<rect x="1092" y="1495.06" width="66.8" height="13.87" fill="#3f4889"/>
<rect x="1158.8" y="1495.06" width="66.8" height="13.87" fill="#22a384"/>
<rect x="958.4" y="1508.93" width="66.8" height="13.87" fill="#6acc5b"/>
<rect x="1025.2" y="1508.93" width="66.8" height="13.87" fill="#2a768e"/>
<rect x="1092" y="1508.93" width="66.8" height="13.87" fill="#423e84"/>
<rect x="1158.8" y="1508.93" width="66.8" height="13.87" fill="#22a384"/>
<rect x="958.4" y="1522.8" width="66.8" height="13.87" fill="#44be70"/>
<rect x="1025.2" y="1522.8" width="66.8" height="13.87" fill="#2a768e"/>
<rect x="1092" y="1522.8" width="66.8" height="13.87" fill="#3a528b"/>
<rect x="1158.8" y="1522.8" width="66.8" height="13.87" fill="#21908c"/>
<rect x="958.4" y="1536.66" width="66.8" height="13.87" fill="#44be70"/>
<rect x="1025.2" y="1536.66" width="66.8" height="13.87" fill="#21908c"/>
<rect x="1092" y="1536.66" width="66.8" height="13.87" fill="#423e84"/>
<rect x="1158.8" y="1536.66" width="66.8" height="13.87" fill="#22a384"/>
<rect x="958.4" y="1550.53" width="66.8" height="13.87" fill="#2bac7e"/>
<rect x="1025.2" y="1550.53" width="66.8" height="13.87" fill="#32658e"/>
<rect x="1092" y="1550.53" width="66.8" height="13.87" fill="#3a528b"/>
<rect x="1158.8" y="1550.53" width="66.8" height="13.87" fill="#34b679"/>
<rect x="958.4" y="1564.4" width="66.8" height="13.87" fill="#44be70"/>
<rect x="1025.2" y="1564.4" width="66.8" height="13.87" fill="#32658e"/>
<rect x="1092" y="1564.4" width="66.8" height="13.87" fill="#3a528b"/>
<rect x="1158.8" y="1564.4" width="66.8" height="13.87" fill="#54c568"/>
<rect x="958.4" y="1578.27" width="66.8" height="13.87" fill="#229a88"/>
<rect x="1025.2" y="1578.27" width="66.8" height="13.87" fill="#22a384"/>
<rect x="1092" y="1578.27" width="66.8" height="13.87" fill="#423e84"/>
<rect x="1158.8" y="1578.27" width="66.8" height="13.87" fill="#2bac7e"/>
<rect x="958.4" y="1592.14" width="66.8" height="13.87" fill="#44be70"/>
<rect x="1025.2" y="1592.14" width="66.8" height="13.87" fill="#22a384"/>
<rect x="1092" y="1592.14" width="66.8" height="13.87" fill="#423e84"/>
<rect x="1158.8" y="1592.14" width="66.8" height="13.87" fill="#22a384"/>
<rect x="958.4" y="1606" width="66.8" height="13.87" fill="#34b679"/>
<rect x="1025.2" y="1606" width="66.8" height="13.87" fill="#2bac7e"/>
<rect x="1092" y="1606" width="66.8" height="13.87" fill="#472776"/>
<rect x="1158.8" y="1606" width="66.8" height="13.87" fill="#22a384"/>
<rect x="958.4" y="1619.87" width="66.8" height="13.87" fill="#2bac7e"/>
<rect x="1025.2" y="1619.87" width="66.8" height="13.87" fill="#22a384"/>
<rect x="1092" y="1619.87" width="66.8" height="13.87" fill="#423e84"/>
<rect x="1158.8" y="1619.87" width="66.8" height="13.87" fill="#22a384"/>
<rect x="958.4" y="1633.74" width="66.8" height="13.87" fill="#22a384"/>
<rect x="1025.2" y="1633.74" width="66.8" height="13.87" fill="#22a384"/>
<rect x="1092" y="1633.74" width="66.8" height="13.87" fill="#423e84"/>
<rect x="1158.8" y="1633.74" width="66.8" height="13.87" fill="#22a384"/>
<rect x="958.4" y="1647.61" width="66.8" height="13.87" fill="#22a384"/>
<rect x="1025.2" y="1647.61" width="66.8" height="13.87" fill="#22a384"/>
<rect x="1092" y="1647.61" width="66.8" height="13.87" fill="#423e84"/>
<rect x="1158.8" y="1647.61" width="66.8" height="13.87" fill="#22a384"/>
<rect x="958.4" y="1661.48" width="66.8" height="13.87" fill="#44be70"/>
<rect x="1025.2" y="1661.48" width="66.8" height="13.87" fill="#7fd34e"/>
<rect x="1092" y="1661.48" width="66.8" height="13.87" fill="#440154"/>
<rect x="1158.8" y="1661.48" width="66.8" height="13.87" fill="#21908c"/>
<rect x="958.4" y="1675.34" width="66.8" height="13.87" fill="#44be70"/>
<rect x="1025.2" y="1675.34" width="66.8" height="13.87" fill="#2bac7e"/>
<rect x="1092" y="1675.34" width="66.8" height="13.87" fill="#21908c"/>
<rect x="1158.8" y="1675.34" width="66.8" height="13.87" fill="#472776"/>
<rect x="958.4" y="1689.21" width="66.8" height="13.87" fill="#22a384"/>
<rect x="1025.2" y="1689.21" width="66.8" height="13.87" fill="#24888d"/>
<rect x="1092" y="1689.21" width="66.8" height="13.87" fill="#34b679"/>
<rect x="1158.8" y="1689.21" width="66.8" height="13.87" fill="#423e84"/>
<rect x="958.4" y="1703.08" width="66.8" height="13.87" fill="#22a384"/>
<rect x="1025.2" y="1703.08" width="66.8" height="13.87" fill="#22a384"/>
<rect x="1092" y="1703.08" width="66.8" height="13.87" fill="#54c568"/>
<rect x="1158.8" y="1703.08" width="66.8" height="13.87" fill="#472776"/>
<rect x="958.4" y="1716.95" width="66.8" height="13.87" fill="#22a384"/>
<rect x="1025.2" y="1716.95" width="66.8" height="13.87" fill="#22a384"/>
<rect x="1092" y="1716.95" width="66.8" height="13.87" fill="#22a384"/>
<rect x="1158.8" y="1716.95" width="66.8" height="13.87" fill="#423e84"/>
<rect x="958.4" y="1730.82" width="66.8" height="13.87" fill="#22a384"/>
<rect x="1025.2" y="1730.82" width="66.8" height="13.87" fill="#22a384"/>
<rect x="1092" y="1730.82" width="66.8" height="13.87" fill="#22a384"/>
<rect x="1158.8" y="1730.82" width="66.8" height="13.87" fill="#3a528b"/>
<rect x="958.4" y="1744.68" width="66.8" height="13.87" fill="#22a384"/>
<rect x="1025.2" y="1744.68" width="66.8" height="13.87" fill="#2bac7e"/>
<rect x="1092" y="1744.68" width="66.8" height="13.87" fill="#22a384"/>
<rect x="1158.8" y="1744.68" width="66.8" height="13.87" fill="#423e84"/>
<rect x="958.4" y="1758.55" width="66.8" height="13.87" fill="#44be70"/>
<rect x="1025.2" y="1758.55" width="66.8" height="13.87" fill="#2e6e8e"/>
<rect x="1092" y="1758.55" width="66.8" height="13.87" fill="#22a384"/>
<rect x="1158.8" y="1758.55" width="66.8" height="13.87" fill="#3a528b"/>
<rect x="958.4" y="1772.42" width="66.8" height="13.87" fill="#7fd34e"/>
<rect x="1025.2" y="1772.42" width="66.8" height="13.87" fill="#277f8e"/>
<rect x="1092" y="1772.42" width="66.8" height="13.87" fill="#229a88"/>
<rect x="1158.8" y="1772.42" width="66.8" height="13.87" fill="#423e84"/>
<rect x="958.4" y="1786.29" width="66.8" height="13.87" fill="#2bac7e"/>
<rect x="1025.2" y="1786.29" width="66.8" height="13.87" fill="#34b679"/>
<rect x="1092" y="1786.29" width="66.8" height="13.87" fill="#32658e"/>
<rect x="1158.8" y="1786.29" width="66.8" height="13.87" fill="#3a528b"/>
<rect x="958.4" y="1800.16" width="66.8" height="13.87" fill="#22a384"/>
<rect x="1025.2" y="1800.16" width="66.8" height="13.87" fill="#44be70"/>
<rect x="1092" y="1800.16" width="66.8" height="13.87" fill="#32658e"/>
<rect x="1158.8" y="1800.16" width="66.8" height="13.87" fill="#32658e"/>
<rect x="958.4" y="1814.02" width="66.8" height="13.87" fill="#21908c"/>
<rect x="1025.2" y="1814.02" width="66.8" height="13.87" fill="#44be70"/>
<rect x="1092" y="1814.02" width="66.8" height="13.87" fill="#2a768e"/>
<rect x="1158.8" y="1814.02" width="66.8" height="13.87" fill="#32658e"/>
<rect x="958.4" y="1827.89" width="66.8" height="13.87" fill="#6acc5b"/>
<rect x="1025.2" y="1827.89" width="66.8" height="13.87" fill="#44be70"/>
<rect x="1092" y="1827.89" width="66.8" height="13.87" fill="#3a528b"/>
<rect x="1158.8" y="1827.89" width="66.8" height="13.87" fill="#423e84"/>
<rect x="958.4" y="1841.76" width="66.8" height="13.87" fill="#6acc5b"/>
<rect x="1025.2" y="1841.76" width="66.8" height="13.87" fill="#44be70"/>
<rect x="1092" y="1841.76" width="66.8" height="13.87" fill="#32658e"/>
<rect x="1158.8" y="1841.76" width="66.8" height="13.87" fill="#460e60"/>
<rect x="958.4" y="1855.63" width="66.8" height="13.87" fill="#addc30"/>
<rect x="1025.2" y="1855.63" width="66.8" height="13.87" fill="#22a384"/>
<rect x="1092" y="1855.63" width="66.8" height="13.87" fill="#32658e"/>
<rect x="1158.8" y="1855.63" width="66.8" height="13.87" fill="#472776"/>
</g>
<g class="g">
<text x="1229.6" y="189.93">Os02g0744200</text>
<text x="1229.6" y="203.8">Os10g0556100</text>
<text x="1229.6" y="217.67">Os06g0671150</text>
<text x="1229.6" y="231.54">Os05g0477600</text>
<text x="1229.6" y="245.41">Os03g0239000</text>
<text x="1229.6" y="259.27">Os02g0639500</text>
<text x="1229.6" y="273.14">Os05g0277000</text>
<text x="1229.6" y="287.01">Os09g0473200</text>
<text x="1229.6" y="300.88">Os08g0118500</text>
<text x="1229.6" y="314.75">Os02g0658800</text>
<text x="1229.6" y="328.61">Os08g0118800</text>
<text x="1229.6" y="342.48">Os09g0546200</text>
<text x="1229.6" y="356.35">Os11g0539200</text>
<text x="1229.6" y="370.22">Os06g0696400</text>
<text x="1229.6" y="384.09">Os03g0155900</text>
<text x="1229.6" y="397.95">Os04g0604300</text>
<text x="1229.6" y="411.82">Os06g0718100</text>
<text x="1229.6" y="425.69">Os04g0583500</text>
<text x="1229.6" y="439.56">Os10g0555600</text>
<text x="1229.6" y="453.43">Os03g0822000</text>
<text x="1229.6" y="467.29">Os07g0480800</text>
<text x="1229.6" y="481.16">Os03g0102500</text>
<text x="1229.6" y="495.03">Os01g0248900</text>
<text x="1229.6" y="508.9">Os06g0725300</text>
<text x="1229.6" y="522.77">Os08g0452500</text>
<text x="1229.6" y="536.63">Os02g0823700</text>
<text x="1229.6" y="550.5">Os07g0529700</text>
<text x="1229.6" y="564.37">Os02g0696500</text>
<text x="1229.6" y="578.24">Os09g0546900</text>
<text x="1229.6" y="592.11">Os10g0117000</text>
<text x="1229.6" y="605.97">Os09g0547000</text>
<text x="1229.6" y="619.84">Os06g0696500</text>
<text x="1229.6" y="633.71">Os09g0547100</text>
<text x="1229.6" y="647.58">Os09g0546100</text>
<text x="1229.6" y="661.45">Os07g0475400</text>
<text x="1229.6" y="675.31">Os06g0697000</text>
<text x="1229.6" y="689.18">Os04g0662200</text>
<text x="1229.6" y="703.05">Os04g0604200</text>
<text x="1229.6" y="716.92">Os04g0617050</text>
<text x="1229.6" y="730.79">Os06g0335900</text>
<text x="1229.6" y="744.65">Os04g0530050</text>
<text x="1229.6" y="758.52">Os03g0377100</text>
<text x="1229.6" y="772.39">Os04g0662400</text>
<text x="1229.6" y="786.26">Os10g0542400</text>
<text x="1229.6" y="800.13">Os03g0155700</text>
<text x="1229.6" y="813.99">Os07g0475700</text>
<text x="1229.6" y="827.86">Os09g0546700</text>
<text x="1229.6" y="841.73">Os04g0517900</text>
<text x="1229.6" y="855.6">Os04g0530100</text>
<text x="1229.6" y="869.47">Os06g0696566</text>
<text x="1229.6" y="883.33">Os04g0631200</text>
<text x="1229.6" y="897.2">Os03g0336400</text>
<text x="1229.6" y="911.07">Os03g0645000</text>
<text x="1229.6" y="924.94">Os02g0167600</text>
<text x="1229.6" y="938.81">Os03g0854600</text>
<text x="1229.6" y="952.67">Os02g0143400</text>
<text x="1229.6" y="966.54">Os03g0156000</text>
<text x="1229.6" y="980.41">Os10g0439100</text>
<text x="1229.6" y="994.28">Os02g0280200</text>
<text x="1229.6" y="1008.15">Os09g0437100</text>
<text x="1229.6" y="1022.01">Os10g0439200</text>
<text x="1229.6" y="1035.88">Os10g0555900</text>
<text x="1229.6" y="1049.75">Os10g0555700</text>
<text x="1229.6" y="1063.62">Os06g0621900</text>
<text x="1229.6" y="1077.49">Os10g0535900</text>
<text x="1229.6" y="1091.35">Os05g0276500</text>
<text x="1229.6" y="1105.22">Os12g0609600</text>
<text x="1229.6" y="1119.09">Os01g0823100</text>
<text x="1229.6" y="1132.96">Os04g0228400</text>
<text x="1229.6" y="1146.83">Os04g0604900</text>
<text x="1229.6" y="1160.69">Os06g0702000</text>
<text x="1229.6" y="1174.56">Os03g0428700</text>
<text x="1229.6" y="1188.43">Os02g0267200</text>
<text x="1229.6" y="1202.3">Os04g0604800</text>
<text x="1229.6" y="1216.17">Os02g0305950</text>
<text x="1229.6" y="1230.03">Os08g0240500</text>
<text x="1229.6" y="1243.9">Os01g0274500</text>
<text x="1229.6" y="1257.77">Os01g0924966</text>
<text x="1229.6" y="1271.64">Os10g0548600</text>
<text x="1229.6" y="1285.51">Os02g0643800</text>
<text x="1229.6" y="1299.37">Os06g0696600</text>
<text x="1229.6" y="1313.24">Os12g0626200</text>
<text x="1229.6" y="1327.11">Os10g0577500</text>
<text x="1229.6" y="1340.98">Os09g0545300</text>
<text x="1229.6" y="1354.85">Os06g0701900</text>
<text x="1229.6" y="1368.71">Os03g0155500</text>
<text x="1229.6" y="1382.58">Os03g0155300</text>
<text x="1229.6" y="1396.45">Os10g0545500</text>
<text x="1229.6" y="1410.32">Os08g0237000</text>
<text x="1229.6" y="1424.19">Os06g0108600</text>
<text x="1229.6" y="1438.05">Os03g0156300</text>
<text x="1229.6" y="1451.92">Os01g0249100</text>
<text x="1229.6" y="1465.79">Os02g0267700</text>
<text x="1229.6" y="1479.66">Os05g0246300</text>
<text x="1229.6" y="1493.53">Os03g0108300</text>
<text x="1229.6" y="1507.39">Os06g0335975</text>
<text x="1229.6" y="1521.26">Os02g0512000</text>
<text x="1229.6" y="1535.13">Os03g0660500</text>
<text x="1229.6" y="1549">Os01g0768333</text>
<text x="1229.6" y="1562.87">Os02g0127800</text>
<text x="1229.6" y="1576.73">Os06g0671600</text>
<text x="1229.6" y="1590.6">Os04g0608300</text>
<text x="1229.6" y="1604.47">Os04g0552000</text>
<text x="1229.6" y="1618.34">Os04g0552200</text>
<text x="1229.6" y="1632.21">Os09g0472900</text>
<text x="1229.6" y="1646.07">Os02g0268400</text>
<text x="1229.6" y="1659.94">Os02g0268600</text>
<text x="1229.6" y="1673.81">Os07g0496250</text>
<text x="1229.6" y="1687.68">Os02g0769100</text>
<text x="1229.6" y="1701.55">Os09g0437400</text>
<text x="1229.6" y="1715.41">Os03g0102700</text>
<text x="1229.6" y="1729.28">Os02g0445100</text>
<text x="1229.6" y="1743.15">Os06g0137400</text>
<text x="1229.6" y="1757.02">Os02g0445600</text>
<text x="1229.6" y="1770.89">Os02g0267900</text>
<text x="1229.6" y="1784.75">Os03g0660400</text>
<text x="1229.6" y="1798.62">Os09g0472700</text>
<text x="1229.6" y="1812.49">Os08g0550700</text>
<text x="1229.6" y="1826.36">Os02g0143300</text>
<text x="1229.6" y="1840.23">Os04g0537100</text>
<text x="1229.6" y="1854.09">Os06g0714300</text>
<text x="1229.6" y="1867.96">Os03g0132200</text>
</g>
<path class="dn" d="M952.2 184.53H945.6V198.4H952.2M952.2 212.27H946.2V226.14H952.2M945.6 191.47H943.2V219.2H946.2M952.2 240.01H947.5V253.87H952.2M947.5 246.94H945.3V267.74H952.2M952.2 281.61H949.5V295.48H952.2M952.2 323.21H947.5V337.08H952.2M952.2 309.35H946V330.15H947.5M949.5 288.54H944.6V319.75H946M945.3 257.34H940.9V304.15H944.6M940.9 280.74H938.9V350.95H952.2M938.9 315.85H931.2V364.82H952.2M943.2 205.34H928.5V340.33H931.2M952.2 392.55H950.2V406.42H952.2M952.2 378.69H944.2V399.49H950.2M944.2 389.09H936.8V420.29H952.2M952.2 434.16H946.7V448.03H952.2M946.7 441.09H945.6V461.89H952.2M945.6 451.49H940.9V475.76H952.2M940.9 463.63H938.3V489.63H952.2M952.2 517.37H948.7V531.23H952.2M952.2 503.5H943.6V524.3H948.7M952.2 545.1H942V558.97H952.2M943.6 513.9H935.2V552.04H942M938.3 476.63H930.9V532.97H935.2M936.8 404.69H924.4V504.8H930.9M928.5 272.83H915.5V454.74H924.4M952.2 586.71H943.6V600.57H952.2M952.2 572.84H942V593.64H943.6M952.2 628.31H944.8V642.18H952.2M952.2 614.44H937.4V635.24H944.8M942 583.24H928.3V624.84H937.4M952.2 669.91H937.9V683.78H952.2M952.2 656.05H930.2V676.85H937.9M928.3 604.04H911.6V666.45H930.2M915.5 363.79H894.8V635.24H911.6M952.2 697.65H937.7V711.52H952.2M952.2 739.25H940.7V753.12H952.2M952.2 725.39H923V746.19H940.7M937.7 704.58H914.6V735.79H923M952.2 766.99H913.2V780.86H952.2M952.2 794.73H944.4V808.59H952.2M952.2 822.46H942.3V836.33H952.2M944.4 801.66H935.4V829.4H942.3M952.2 850.2H940.7V864.07H952.2M952.2 891.8H947.9V905.67H952.2M947.9 898.74H939.7V919.54H952.2M952.2 877.93H935.4V909.14H939.7M940.7 857.13H932.2V893.54H935.4M935.4 815.53H923.7V875.33H932.2M913.2 773.92H906V845.43H923.7M914.6 720.19H880V809.68H906M894.8 499.52H870.7V764.93H880M952.2 933.41H924.8V947.27H952.2M952.2 975.01H940.7V988.88H952.2M952.2 961.14H935.8V981.94H940.7M935.8 971.54H930.4V1002.75H952.2M952.2 1016.61H931.2V1030.48H952.2M930.4 987.14H919.2V1023.55H931.2M924.8 940.34H906V1005.35H919.2M952.2 1044.35H942.4V1058.22H952.2M952.2 1085.95H933V1099.82H952.2M952.2 1072.09H923.2V1092.89H933M952.2 1127.56H944.2V1141.43H952.2M952.2 1113.69H929.5V1134.49H944.2M923.2 1082.49H912.2V1124.09H929.5M942.4 1051.28H909.6V1103.29H912.2M906 972.84H875.7V1077.29H909.6M870.7 632.22H833.2V1025.06H875.7M952.2 1155.29H940V1169.16H952.2M940 1162.23H930.2V1183.03H952.2M952.2 1196.9H937.9V1210.77H952.2M930.2 1172.63H920.8V1203.83H937.9M952.2 1238.5H945.9V1252.37H952.2M952.2 1224.63H942.4V1245.44H945.9M942.4 1235.03H926V1266.24H952.2M920.8 1188.23H896.7V1250.64H926M952.2 1293.97H938.4V1307.84H952.2M952.2 1321.71H940V1335.58H952.2M938.4 1300.91H929V1328.64H940M952.2 1280.11H899.3V1314.78H929M896.7 1219.43H871.7V1297.44H899.3M952.2 1363.31H944.2V1377.18H952.2M952.2 1349.45H935.4V1370.25H944.2M952.2 1391.05H941.2V1404.92H952.2M935.4 1359.85H929V1397.98H941.2M952.2 1446.52H951.2V1460.39H952.2M952.2 1432.65H939.6V1453.46H951.2M952.2 1418.79H928.3V1443.05H939.6M929 1378.92H913.8V1430.92H928.3M952.2 1474.26H935.6V1488.13H952.2M913.8 1404.92H894.6V1481.19H935.6M871.7 1258.44H838.9V1443.05H894.6M952.2 1501.99H938.9V1515.86H952.2M952.2 1529.73H935.6V1543.6H952.2M938.9 1508.93H932.1V1536.66H935.6M952.2 1557.47H940.2V1571.33H952.2M932.1 1522.8H921.3V1564.4H940.2M952.2 1640.67H951.2V1654.54H952.2M952.2 1626.81H942.4V1647.61H951.2M952.2 1612.94H937.2V1637.21H942.4M952.2 1599.07H934.9V1625.07H937.2M952.2 1585.2H924.2V1612.07H934.9M921.3 1543.6H901.9V1598.64H924.2M901.9 1571.12H878.7V1668.41H952.2M952.2 1696.15H934.4V1710.01H952.2M952.2 1723.88H939.6V1737.75H952.2M939.6 1730.82H931.8V1751.62H952.2M934.4 1703.08H920.2V1741.22H931.8M952.2 1682.28H915V1722.15H920.2M952.2 1765.49H927.4V1779.35H952.2M915 1702.21H904.2V1772.42H927.4M952.2 1793.22H933.7V1807.09H952.2M933.7 1800.16H926.7V1820.96H952.2M952.2 1848.69H931.4V1862.56H952.2M952.2 1834.83H925.5V1855.63H931.4M926.7 1810.56H889.5V1845.23H925.5M904.2 1737.32H876.8V1827.89H889.5M878.7 1619.76H835.4V1782.6H876.8M838.9 1350.75H799.8V1701.18H835.4M833.2 828.64H786.7V1525.97H799.8"/>
<text x="991.8" y="1904.9" font-size="43.8" text-anchor="middle">1</text>
<text x="1058.6" y="1904.9" font-size="43.8" text-anchor="middle">3</text>
<text x="1125.4" y="1904.9" font-size="43.8" text-anchor="middle">5</text>
<text x="1192.2" y="1904.9" font-size="43.8" text-anchor="middle">7</text>
<text x="1091.7" y="1945" font-size="44" text-anchor="middle" textLength="366" lengthAdjust="spacing">Days after grafting</text>
<g class="hm">
<rect x="1717.1" y="177.4" width="66.78" height="13.71" fill="#440154"/>
<rect x="1783.88" y="177.4" width="66.78" height="13.71" fill="#21908c"/>
<rect x="1850.66" y="177.4" width="66.78" height="13.71" fill="#22a384"/>
<rect x="1917.44" y="177.4" width="66.78" height="13.71" fill="#addc30"/>
<rect x="1717.1" y="191.11" width="66.78" height="13.71" fill="#471365"/>
<rect x="1783.88" y="191.11" width="66.78" height="13.71" fill="#2a768e"/>
<rect x="1850.66" y="191.11" width="66.78" height="13.71" fill="#54c568"/>
<rect x="1917.44" y="191.11" width="66.78" height="13.71" fill="#addc30"/>
<rect x="1717.1" y="204.82" width="66.78" height="13.71" fill="#46337e"/>
<rect x="1783.88" y="204.82" width="66.78" height="13.71" fill="#21908c"/>
<rect x="1850.66" y="204.82" width="66.78" height="13.71" fill="#21908c"/>
<rect x="1917.44" y="204.82" width="66.78" height="13.71" fill="#addc30"/>
<rect x="1717.1" y="218.54" width="66.78" height="13.71" fill="#404487"/>
<rect x="1783.88" y="218.54" width="66.78" height="13.71" fill="#34b679"/>
<rect x="1850.66" y="218.54" width="66.78" height="13.71" fill="#22a384"/>
<rect x="1917.44" y="218.54" width="66.78" height="13.71" fill="#22a384"/>
<rect x="1717.1" y="232.25" width="66.78" height="13.71" fill="#365c8d"/>
<rect x="1783.88" y="232.25" width="66.78" height="13.71" fill="#21908c"/>
<rect x="1850.66" y="232.25" width="66.78" height="13.71" fill="#22a384"/>
<rect x="1917.44" y="232.25" width="66.78" height="13.71" fill="#34b679"/>
<rect x="1717.1" y="245.96" width="66.78" height="13.71" fill="#46337e"/>
<rect x="1783.88" y="245.96" width="66.78" height="13.71" fill="#34b679"/>
<rect x="1850.66" y="245.96" width="66.78" height="13.71" fill="#365c8d"/>
<rect x="1917.44" y="245.96" width="66.78" height="13.71" fill="#addc30"/>
<rect x="1717.1" y="259.67" width="66.78" height="13.71" fill="#481b6d"/>
<rect x="1783.88" y="259.67" width="66.78" height="13.71" fill="#34b679"/>
<rect x="1850.66" y="259.67" width="66.78" height="13.71" fill="#54c568"/>
<rect x="1917.44" y="259.67" width="66.78" height="13.71" fill="#21908c"/>
<rect x="1717.1" y="273.38" width="66.78" height="13.71" fill="#481b6d"/>
<rect x="1783.88" y="273.38" width="66.78" height="13.71" fill="#34b679"/>
<rect x="1850.66" y="273.38" width="66.78" height="13.71" fill="#54c568"/>
<rect x="1917.44" y="273.38" width="66.78" height="13.71" fill="#22a384"/>
<rect x="1717.1" y="287.1" width="66.78" height="13.71" fill="#481b6d"/>
<rect x="1783.88" y="287.1" width="66.78" height="13.71" fill="#54c568"/>
<rect x="1850.66" y="287.1" width="66.78" height="13.71" fill="#7fd34e"/>
<rect x="1917.44" y="287.1" width="66.78" height="13.71" fill="#21908c"/>
<rect x="1717.1" y="300.81" width="66.78" height="13.71" fill="#46337e"/>
<rect x="1783.88" y="300.81" width="66.78" height="13.71" fill="#54c568"/>
<rect x="1850.66" y="300.81" width="66.78" height="13.71" fill="#54c568"/>
<rect x="1917.44" y="300.81" width="66.78" height="13.71" fill="#2e6e8e"/>
<rect x="1717.1" y="314.52" width="66.78" height="13.71" fill="#481b6d"/>
<rect x="1783.88" y="314.52" width="66.78" height="13.71" fill="#addc30"/>
<rect x="1850.66" y="314.52" width="66.78" height="13.71" fill="#22a384"/>
<rect x="1917.44" y="314.52" width="66.78" height="13.71" fill="#24888d"/>
<rect x="1717.1" y="328.23" width="66.78" height="13.71" fill="#440154"/>
<rect x="1783.88" y="328.23" width="66.78" height="13.71" fill="#7fd34e"/>
<rect x="1850.66" y="328.23" width="66.78" height="13.71" fill="#22a384"/>
<rect x="1917.44" y="328.23" width="66.78" height="13.71" fill="#34b679"/>
<rect x="1717.1" y="341.94" width="66.78" height="13.71" fill="#481b6d"/>
<rect x="1783.88" y="341.94" width="66.78" height="13.71" fill="#34b679"/>
<rect x="1850.66" y="341.94" width="66.78" height="13.71" fill="#34b679"/>
<rect x="1917.44" y="341.94" width="66.78" height="13.71" fill="#22a384"/>
<rect x="1717.1" y="355.66" width="66.78" height="13.71" fill="#481b6d"/>
<rect x="1783.88" y="355.66" width="66.78" height="13.71" fill="#34b679"/>
<rect x="1850.66" y="355.66" width="66.78" height="13.71" fill="#34b679"/>
<rect x="1917.44" y="355.66" width="66.78" height="13.71" fill="#22a384"/>
<rect x="1717.1" y="369.37" width="66.78" height="13.71" fill="#46337e"/>
<rect x="1783.88" y="369.37" width="66.78" height="13.71" fill="#34b679"/>
<rect x="1850.66" y="369.37" width="66.78" height="13.71" fill="#22a384"/>
<rect x="1917.44" y="369.37" width="66.78" height="13.71" fill="#34b679"/>
<rect x="1717.1" y="383.08" width="66.78" height="13.71" fill="#440154"/>
<rect x="1783.88" y="383.08" width="66.78" height="13.71" fill="#34b679"/>
<rect x="1850.66" y="383.08" width="66.78" height="13.71" fill="#34b679"/>
<rect x="1917.44" y="383.08" width="66.78" height="13.71" fill="#7fd34e"/>
<rect x="1717.1" y="396.79" width="66.78" height="13.71" fill="#440154"/>
<rect x="1783.88" y="396.79" width="66.78" height="13.71" fill="#34b679"/>
<rect x="1850.66" y="396.79" width="66.78" height="13.71" fill="#34b679"/>
<rect x="1917.44" y="396.79" width="66.78" height="13.71" fill="#54c568"/>
<rect x="1717.1" y="410.5" width="66.78" height="13.71" fill="#481b6d"/>
<rect x="1783.88" y="410.5" width="66.78" height="13.71" fill="#34b679"/>
<rect x="1850.66" y="410.5" width="66.78" height="13.71" fill="#34b679"/>
<rect x="1917.44" y="410.5" width="66.78" height="13.71" fill="#34b679"/>
<rect x="1717.1" y="424.22" width="66.78" height="13.71" fill="#440154"/>
<rect x="1783.88" y="424.22" width="66.78" height="13.71" fill="#54c568"/>
<rect x="1850.66" y="424.22" width="66.78" height="13.71" fill="#34b679"/>
<rect x="1917.44" y="424.22" width="66.78" height="13.71" fill="#54c568"/>
<rect x="1717.1" y="437.93" width="66.78" height="13.71" fill="#440154"/>
<rect x="1783.88" y="437.93" width="66.78" height="13.71" fill="#34b679"/>
<rect x="1850.66" y="437.93" width="66.78" height="13.71" fill="#229a88"/>
<rect x="1917.44" y="437.93" width="66.78" height="13.71" fill="#7fd34e"/>
<rect x="1717.1" y="451.64" width="66.78" height="13.71" fill="#440154"/>
<rect x="1783.88" y="451.64" width="66.78" height="13.71" fill="#22a384"/>
<rect x="1850.66" y="451.64" width="66.78" height="13.71" fill="#54c568"/>
<rect x="1917.44" y="451.64" width="66.78" height="13.71" fill="#54c568"/>
<rect x="1717.1" y="465.35" width="66.78" height="13.71" fill="#440154"/>
<rect x="1783.88" y="465.35" width="66.78" height="13.71" fill="#22a384"/>
<rect x="1850.66" y="465.35" width="66.78" height="13.71" fill="#54c568"/>
<rect x="1917.44" y="465.35" width="66.78" height="13.71" fill="#54c568"/>
<rect x="1717.1" y="479.06" width="66.78" height="13.71" fill="#440154"/>
<rect x="1783.88" y="479.06" width="66.78" height="13.71" fill="#21908c"/>
<rect x="1850.66" y="479.06" width="66.78" height="13.71" fill="#7fd34e"/>
<rect x="1917.44" y="479.06" width="66.78" height="13.71" fill="#7fd34e"/>
<rect x="1717.1" y="492.78" width="66.78" height="13.71" fill="#481b6d"/>
<rect x="1783.88" y="492.78" width="66.78" height="13.71" fill="#22a384"/>
<rect x="1850.66" y="492.78" width="66.78" height="13.71" fill="#54c568"/>
<rect x="1917.44" y="492.78" width="66.78" height="13.71" fill="#34b679"/>
<rect x="1717.1" y="506.49" width="66.78" height="13.71" fill="#440154"/>
<rect x="1783.88" y="506.49" width="66.78" height="13.71" fill="#22a384"/>
<rect x="1850.66" y="506.49" width="66.78" height="13.71" fill="#54c568"/>
<rect x="1917.44" y="506.49" width="66.78" height="13.71" fill="#34b679"/>
<rect x="1717.1" y="520.2" width="66.78" height="13.71" fill="#481b6d"/>
<rect x="1783.88" y="520.2" width="66.78" height="13.71" fill="#34b679"/>
<rect x="1850.66" y="520.2" width="66.78" height="13.71" fill="#2bac7e"/>
<rect x="1917.44" y="520.2" width="66.78" height="13.71" fill="#54c568"/>
<rect x="1717.1" y="533.91" width="66.78" height="13.71" fill="#440154"/>
<rect x="1783.88" y="533.91" width="66.78" height="13.71" fill="#34b679"/>
<rect x="1850.66" y="533.91" width="66.78" height="13.71" fill="#7fd34e"/>
<rect x="1917.44" y="533.91" width="66.78" height="13.71" fill="#22a384"/>
<rect x="1717.1" y="547.62" width="66.78" height="13.71" fill="#440154"/>
<rect x="1783.88" y="547.62" width="66.78" height="13.71" fill="#54c568"/>
<rect x="1850.66" y="547.62" width="66.78" height="13.71" fill="#54c568"/>
<rect x="1917.44" y="547.62" width="66.78" height="13.71" fill="#22a384"/>
<rect x="1717.1" y="561.34" width="66.78" height="13.71" fill="#440154"/>
<rect x="1783.88" y="561.34" width="66.78" height="13.71" fill="#34b679"/>
<rect x="1850.66" y="561.34" width="66.78" height="13.71" fill="#54c568"/>
<rect x="1917.44" y="561.34" width="66.78" height="13.71" fill="#34b679"/>
<rect x="1717.1" y="575.05" width="66.78" height="13.71" fill="#440154"/>
<rect x="1783.88" y="575.05" width="66.78" height="13.71" fill="#34b679"/>
<rect x="1850.66" y="575.05" width="66.78" height="13.71" fill="#2bac7e"/>
<rect x="1917.44" y="575.05" width="66.78" height="13.71" fill="#34b679"/>
<rect x="1717.1" y="588.76" width="66.78" height="13.71" fill="#440154"/>
<rect x="1783.88" y="588.76" width="66.78" height="13.71" fill="#34b679"/>
<rect x="1850.66" y="588.76" width="66.78" height="13.71" fill="#2bac7e"/>
<rect x="1917.44" y="588.76" width="66.78" height="13.71" fill="#34b679"/>
<rect x="1717.1" y="602.47" width="66.78" height="13.71" fill="#440154"/>
<rect x="1783.88" y="602.47" width="66.78" height="13.71" fill="#34b679"/>
<rect x="1850.66" y="602.47" width="66.78" height="13.71" fill="#54c568"/>
<rect x="1917.44" y="602.47" width="66.78" height="13.71" fill="#34b679"/>
<rect x="1717.1" y="616.18" width="66.78" height="13.71" fill="#440154"/>
<rect x="1783.88" y="616.18" width="66.78" height="13.71" fill="#34b679"/>
<rect x="1850.66" y="616.18" width="66.78" height="13.71" fill="#2bac7e"/>
<rect x="1917.44" y="616.18" width="66.78" height="13.71" fill="#34b679"/>
<rect x="1717.1" y="629.9" width="66.78" height="13.71" fill="#440154"/>
<rect x="1783.88" y="629.9" width="66.78" height="13.71" fill="#34b679"/>
<rect x="1850.66" y="629.9" width="66.78" height="13.71" fill="#54c568"/>
<rect x="1917.44" y="629.9" width="66.78" height="13.71" fill="#34b679"/>
<rect x="1717.1" y="643.61" width="66.78" height="13.71" fill="#440154"/>
<rect x="1783.88" y="643.61" width="66.78" height="13.71" fill="#34b679"/>
<rect x="1850.66" y="643.61" width="66.78" height="13.71" fill="#34b679"/>
<rect x="1917.44" y="643.61" width="66.78" height="13.71" fill="#34b679"/>
<rect x="1717.1" y="657.32" width="66.78" height="13.71" fill="#440154"/>
<rect x="1783.88" y="657.32" width="66.78" height="13.71" fill="#34b679"/>
<rect x="1850.66" y="657.32" width="66.78" height="13.71" fill="#34b679"/>
<rect x="1917.44" y="657.32" width="66.78" height="13.71" fill="#34b679"/>
<rect x="1717.1" y="671.03" width="66.78" height="13.71" fill="#440154"/>
<rect x="1783.88" y="671.03" width="66.78" height="13.71" fill="#54c568"/>
<rect x="1850.66" y="671.03" width="66.78" height="13.71" fill="#34b679"/>
<rect x="1917.44" y="671.03" width="66.78" height="13.71" fill="#34b679"/>
<rect x="1717.1" y="684.74" width="66.78" height="13.71" fill="#440154"/>
<rect x="1783.88" y="684.74" width="66.78" height="13.71" fill="#54c568"/>
<rect x="1850.66" y="684.74" width="66.78" height="13.71" fill="#34b679"/>
<rect x="1917.44" y="684.74" width="66.78" height="13.71" fill="#34b679"/>
<rect x="1717.1" y="698.46" width="66.78" height="13.71" fill="#440154"/>
<rect x="1783.88" y="698.46" width="66.78" height="13.71" fill="#54c568"/>
<rect x="1850.66" y="698.46" width="66.78" height="13.71" fill="#34b679"/>
<rect x="1917.44" y="698.46" width="66.78" height="13.71" fill="#34b679"/>
<rect x="1717.1" y="712.17" width="66.78" height="13.71" fill="#440154"/>
<rect x="1783.88" y="712.17" width="66.78" height="13.71" fill="#34b679"/>
<rect x="1850.66" y="712.17" width="66.78" height="13.71" fill="#34b679"/>
<rect x="1917.44" y="712.17" width="66.78" height="13.71" fill="#34b679"/>
<rect x="1717.1" y="725.88" width="66.78" height="13.71" fill="#440154"/>
<rect x="1783.88" y="725.88" width="66.78" height="13.71" fill="#34b679"/>
<rect x="1850.66" y="725.88" width="66.78" height="13.71" fill="#34b679"/>
<rect x="1917.44" y="725.88" width="66.78" height="13.71" fill="#34b679"/>
<rect x="1717.1" y="739.59" width="66.78" height="13.71" fill="#440154"/>
<rect x="1783.88" y="739.59" width="66.78" height="13.71" fill="#34b679"/>
<rect x="1850.66" y="739.59" width="66.78" height="13.71" fill="#34b679"/>
<rect x="1917.44" y="739.59" width="66.78" height="13.71" fill="#34b679"/>
<rect x="1717.1" y="753.3" width="66.78" height="13.71" fill="#21908c"/>
<rect x="1783.88" y="753.3" width="66.78" height="13.71" fill="#3a528b"/>
<rect x="1850.66" y="753.3" width="66.78" height="13.71" fill="#365c8d"/>
<rect x="1917.44" y="753.3" width="66.78" height="13.71" fill="#7fd34e"/>
<rect x="1717.1" y="767.02" width="66.78" height="13.71" fill="#22a384"/>
<rect x="1783.88" y="767.02" width="66.78" height="13.71" fill="#423e84"/>
<rect x="1850.66" y="767.02" width="66.78" height="13.71" fill="#2a768e"/>
<rect x="1917.44" y="767.02" width="66.78" height="13.71" fill="#7fd34e"/>
<rect x="1717.1" y="780.73" width="66.78" height="13.71" fill="#2e6e8e"/>
<rect x="1783.88" y="780.73" width="66.78" height="13.71" fill="#460e60"/>
<rect x="1850.66" y="780.73" width="66.78" height="13.71" fill="#34b679"/>
<rect x="1917.44" y="780.73" width="66.78" height="13.71" fill="#dde318"/>
<rect x="1717.1" y="794.44" width="66.78" height="13.71" fill="#54c568"/>
<rect x="1783.88" y="794.44" width="66.78" height="13.71" fill="#481b6d"/>
<rect x="1850.66" y="794.44" width="66.78" height="13.71" fill="#21908c"/>
<rect x="1917.44" y="794.44" width="66.78" height="13.71" fill="#34b679"/>
<rect x="1717.1" y="808.15" width="66.78" height="13.71" fill="#2bac7e"/>
<rect x="1783.88" y="808.15" width="66.78" height="13.71" fill="#2e6e8e"/>
<rect x="1850.66" y="808.15" width="66.78" height="13.71" fill="#21908c"/>
<rect x="1917.44" y="808.15" width="66.78" height="13.71" fill="#21908c"/>
<rect x="1717.1" y="821.86" width="66.78" height="13.71" fill="#229a88"/>
<rect x="1783.88" y="821.86" width="66.78" height="13.71" fill="#365c8d"/>
<rect x="1850.66" y="821.86" width="66.78" height="13.71" fill="#34b679"/>
<rect x="1917.44" y="821.86" width="66.78" height="13.71" fill="#21908c"/>
<rect x="1717.1" y="835.58" width="66.78" height="13.71" fill="#2bac7e"/>
<rect x="1783.88" y="835.58" width="66.78" height="13.71" fill="#2a768e"/>
<rect x="1850.66" y="835.58" width="66.78" height="13.71" fill="#22a384"/>
<rect x="1917.44" y="835.58" width="66.78" height="13.71" fill="#3a528b"/>
<rect x="1717.1" y="849.29" width="66.78" height="13.71" fill="#22a384"/>
<rect x="1783.88" y="849.29" width="66.78" height="13.71" fill="#229a88"/>
<rect x="1850.66" y="849.29" width="66.78" height="13.71" fill="#22a384"/>
<rect x="1917.44" y="849.29" width="66.78" height="13.71" fill="#423e84"/>
<rect x="1717.1" y="863" width="66.78" height="13.71" fill="#277f8e"/>
<rect x="1783.88" y="863" width="66.78" height="13.71" fill="#54c568"/>
<rect x="1850.66" y="863" width="66.78" height="13.71" fill="#7fd34e"/>
<rect x="1917.44" y="863" width="66.78" height="13.71" fill="#460e60"/>
<rect x="1717.1" y="876.71" width="66.78" height="13.71" fill="#24888d"/>
<rect x="1783.88" y="876.71" width="66.78" height="13.71" fill="#fde725"/>
<rect x="1850.66" y="876.71" width="66.78" height="13.71" fill="#277f8e"/>
<rect x="1917.44" y="876.71" width="66.78" height="13.71" fill="#423e84"/>
<rect x="1717.1" y="890.42" width="66.78" height="13.71" fill="#3a528b"/>
<rect x="1783.88" y="890.42" width="66.78" height="13.71" fill="#dde318"/>
<rect x="1850.66" y="890.42" width="66.78" height="13.71" fill="#3a528b"/>
<rect x="1917.44" y="890.42" width="66.78" height="13.71" fill="#21908c"/>
<rect x="1717.1" y="904.14" width="66.78" height="13.71" fill="#277f8e"/>
<rect x="1783.88" y="904.14" width="66.78" height="13.71" fill="#54c568"/>
<rect x="1850.66" y="904.14" width="66.78" height="13.71" fill="#277f8e"/>
<rect x="1917.44" y="904.14" width="66.78" height="13.71" fill="#277f8e"/>
<rect x="1717.1" y="917.85" width="66.78" height="13.71" fill="#2bac7e"/>
<rect x="1783.88" y="917.85" width="66.78" height="13.71" fill="#21908c"/>
<rect x="1850.66" y="917.85" width="66.78" height="13.71" fill="#32658e"/>
<rect x="1917.44" y="917.85" width="66.78" height="13.71" fill="#21908c"/>
<rect x="1717.1" y="931.56" width="66.78" height="13.71" fill="#24888d"/>
<rect x="1783.88" y="931.56" width="66.78" height="13.71" fill="#21908c"/>
<rect x="1850.66" y="931.56" width="66.78" height="13.71" fill="#277f8e"/>
<rect x="1917.44" y="931.56" width="66.78" height="13.71" fill="#34b679"/>
<rect x="1717.1" y="945.27" width="66.78" height="13.71" fill="#44be70"/>
<rect x="1783.88" y="945.27" width="66.78" height="13.71" fill="#44be70"/>
<rect x="1850.66" y="945.27" width="66.78" height="13.71" fill="#277f8e"/>
<rect x="1917.44" y="945.27" width="66.78" height="13.71" fill="#472776"/>
<rect x="1717.1" y="958.98" width="66.78" height="13.71" fill="#44be70"/>
<rect x="1783.88" y="958.98" width="66.78" height="13.71" fill="#44be70"/>
<rect x="1850.66" y="958.98" width="66.78" height="13.71" fill="#365c8d"/>
<rect x="1917.44" y="958.98" width="66.78" height="13.71" fill="#365c8d"/>
<rect x="1717.1" y="972.7" width="66.78" height="13.71" fill="#44be70"/>
<rect x="1783.88" y="972.7" width="66.78" height="13.71" fill="#addc30"/>
<rect x="1850.66" y="972.7" width="66.78" height="13.71" fill="#277f8e"/>
<rect x="1917.44" y="972.7" width="66.78" height="13.71" fill="#460e60"/>
<rect x="1717.1" y="986.41" width="66.78" height="13.71" fill="#6acc5b"/>
<rect x="1783.88" y="986.41" width="66.78" height="13.71" fill="#6acc5b"/>
<rect x="1850.66" y="986.41" width="66.78" height="13.71" fill="#423e84"/>
<rect x="1917.44" y="986.41" width="66.78" height="13.71" fill="#3f4889"/>
<rect x="1717.1" y="1000.12" width="66.78" height="13.71" fill="#6acc5b"/>
<rect x="1783.88" y="1000.12" width="66.78" height="13.71" fill="#96d83f"/>
<rect x="1850.66" y="1000.12" width="66.78" height="13.71" fill="#423e84"/>
<rect x="1917.44" y="1000.12" width="66.78" height="13.71" fill="#46337e"/>
<rect x="1717.1" y="1013.83" width="66.78" height="13.71" fill="#96d83f"/>
<rect x="1783.88" y="1013.83" width="66.78" height="13.71" fill="#2bac7e"/>
<rect x="1850.66" y="1013.83" width="66.78" height="13.71" fill="#24888d"/>
<rect x="1917.44" y="1013.83" width="66.78" height="13.71" fill="#46337e"/>
<rect x="1717.1" y="1027.54" width="66.78" height="13.71" fill="#dde318"/>
<rect x="1783.88" y="1027.54" width="66.78" height="13.71" fill="#21908c"/>
<rect x="1850.66" y="1027.54" width="66.78" height="13.71" fill="#277f8e"/>
<rect x="1917.44" y="1027.54" width="66.78" height="13.71" fill="#423e84"/>
<rect x="1717.1" y="1041.26" width="66.78" height="13.71" fill="#dde318"/>
<rect x="1783.88" y="1041.26" width="66.78" height="13.71" fill="#22a384"/>
<rect x="1850.66" y="1041.26" width="66.78" height="13.71" fill="#3a528b"/>
<rect x="1917.44" y="1041.26" width="66.78" height="13.71" fill="#423e84"/>
<rect x="1717.1" y="1054.97" width="66.78" height="13.71" fill="#96d83f"/>
<rect x="1783.88" y="1054.97" width="66.78" height="13.71" fill="#22a384"/>
<rect x="1850.66" y="1054.97" width="66.78" height="13.71" fill="#3a528b"/>
<rect x="1917.44" y="1054.97" width="66.78" height="13.71" fill="#3a528b"/>
</g>
<g class="g">
<text x="1988.2" y="189.66">Os02g0123100</text>
<text x="1988.2" y="203.37">Os10g0440100</text>
<text x="1988.2" y="217.08">Os02g0537500</text>
<text x="1988.2" y="230.79">Os08g0479300</text>
<text x="1988.2" y="244.5">Os11g0706801</text>
<text x="1988.2" y="258.22">Os11g0533500</text>
<text x="1988.2" y="271.93">Os12g0484900</text>
<text x="1988.2" y="285.64">Os03g0137800</text>
<text x="1988.2" y="299.35">Os07g0620800</text>
<text x="1988.2" y="313.06">Os06g0204800</text>
<text x="1988.2" y="326.78">Os03g0146300</text>
<text x="1988.2" y="340.49">Os03g0108800</text>
<text x="1988.2" y="354.2">Os03g0733600</text>
<text x="1988.2" y="367.91">Os06g0236600</text>
<text x="1988.2" y="381.62">Os09g0466100</text>
<text x="1988.2" y="395.34">Os03g0729500</text>
<text x="1988.2" y="409.05">Os04g0600900</text>
<text x="1988.2" y="422.76">Os04g0574500</text>
<text x="1988.2" y="436.47">Os09g0382300</text>
<text x="1988.2" y="450.18">Os02g0701300</text>
<text x="1988.2" y="463.9">Os01g0678700</text>
<text x="1988.2" y="477.61">Os06g0245900</text>
<text x="1988.2" y="491.32">Os06g0217900</text>
<text x="1988.2" y="505.03">Os03g0607600</text>
<text x="1988.2" y="518.74">Os12g0588800</text>
<text x="1988.2" y="532.46">Os12g0158800</text>
<text x="1988.2" y="546.17">Os03g0118400</text>
<text x="1988.2" y="559.88">Os02g0678800</text>
<text x="1988.2" y="573.59">Os02g0739700</text>
<text x="1988.2" y="587.3">Os08g0512600</text>
<text x="1988.2" y="601.02">Os01g0805600</text>
<text x="1988.2" y="614.73">Os02g0776900</text>
<text x="1988.2" y="628.44">Os11g0551900</text>
<text x="1988.2" y="642.15">Os02g0135300</text>
<text x="1988.2" y="655.86">Os06g0726800</text>
<text x="1988.2" y="669.58">Os04g0563700</text>
<text x="1988.2" y="683.29">Os08g0538700</text>
<text x="1988.2" y="697">Os09g0111100</text>
<text x="1988.2" y="710.71">Os01g0233500</text>
<text x="1988.2" y="724.42">Os01g0897000</text>
<text x="1988.2" y="738.14">Os12g0502300</text>
<text x="1988.2" y="751.85">Os12g0581800</text>
<text x="1988.2" y="765.56">Os04g0416100</text>
<text x="1988.2" y="779.27">Os11g0614800</text>
<text x="1988.2" y="792.98">Os04g0112200</text>
<text x="1988.2" y="806.7">Os12g0596800</text>
<text x="1988.2" y="820.41">Os06g0182500</text>
<text x="1988.2" y="834.12">Os03g0152100</text>
<text x="1988.2" y="847.83">Os03g0737600</text>
<text x="1988.2" y="861.54">Os03g0392000</text>
<text x="1988.2" y="875.26">Os03g0674700</text>
<text x="1988.2" y="888.97">Os10g0580300</text>
<text x="1988.2" y="902.68">Os03g0203800</text>
<text x="1988.2" y="916.39">Os06g0213700</text>
<text x="1988.2" y="930.1">Os02g0800500</text>
<text x="1988.2" y="943.82">Os03g0267800</text>
<text x="1988.2" y="957.53">Os05g0392300</text>
<text x="1988.2" y="971.24">Os03g0617500</text>
<text x="1988.2" y="984.95">Os11g0615200</text>
<text x="1988.2" y="998.66">Os05g0389700</text>
<text x="1988.2" y="1012.38">Os01g0958000</text>
<text x="1988.2" y="1026.09">Os07g0467500</text>
<text x="1988.2" y="1039.8">Os03g0626600</text>
<text x="1988.2" y="1053.51">Os02g0762400</text>
<text x="1988.2" y="1067.22">Os10g0471700</text>
</g>
<path class="dn" d="M1711.8 184.26H1698.6V197.97H1711.8M1698.6 191.11H1684.8V211.68H1711.8M1711.8 225.39H1687.8V239.1H1711.8M1687.8 232.25H1661.3V252.82H1711.8M1684.8 201.4H1656V242.53H1661.3M1711.8 266.53H1702.8V280.24H1711.8M1711.8 293.95H1701V307.66H1711.8M1702.8 273.38H1694.3V300.81H1701M1711.8 348.8H1708.2V362.51H1711.8M1708.2 355.66H1700.6V376.22H1711.8M1711.8 335.09H1688.3V365.94H1700.6M1711.8 321.38H1683.8V350.51H1688.3M1694.3 287.1H1671.1V335.94H1683.8M1711.8 389.94H1704.6V403.65H1711.8M1711.8 417.36H1701.8V431.07H1711.8M1701.8 424.22H1697.4V444.78H1711.8M1704.6 396.79H1694.3V434.5H1697.4M1711.8 458.5H1707V472.21H1711.8M1707 465.35H1699.8V485.92H1711.8M1711.8 513.34H1702.8V527.06H1711.8M1711.8 499.63H1698.6V520.2H1702.8M1699.8 475.64H1690.3V509.92H1698.6M1711.8 554.48H1706.6V568.19H1711.8M1711.8 581.9H1710V595.62H1711.8M1706.6 561.34H1705.1V588.76H1710M1711.8 623.04H1709.3V636.75H1711.8M1711.8 609.33H1705.5V629.9H1709.3M1711.8 650.46H1710V664.18H1711.8M1710 657.32H1707.8V677.89H1711.8M1711.8 691.6H1709.3V705.31H1711.8M1711.8 732.74H1709.3V746.45H1711.8M1711.8 719.02H1707.8V739.59H1709.3M1709.3 698.46H1706.3V729.31H1707.8M1707.8 667.6H1705.3V713.88H1706.3M1705.5 619.61H1702.6V690.74H1705.3M1705.1 575.05H1698.8V655.18H1702.6M1711.8 540.77H1693.6V615.11H1698.8M1690.3 492.78H1680V577.94H1693.6M1694.3 415.65H1677.6V535.36H1680M1671.1 311.52H1651.8V475.5H1677.6M1656 221.96H1634.8V393.51H1651.8M1711.8 760.16H1692.6V773.87H1711.8M1692.6 767.02H1657.6V787.58H1711.8M1711.8 815.01H1681.3V828.72H1711.8M1711.8 801.3H1669.4V821.86H1681.3M1657.6 777.3H1630.3V811.58H1669.4M1634.8 307.74H1581.3V794.44H1630.3M1711.8 842.43H1687.2V856.14H1711.8M1687.2 849.29H1650V869.86H1711.8M1711.8 883.57H1663V897.28H1711.8M1711.8 924.7H1678.8V938.42H1711.8M1711.8 910.99H1672.8V931.56H1678.8M1663 890.42H1626V921.28H1672.8M1650 859.57H1612.6V905.85H1626M1711.8 952.13H1690V965.84H1711.8M1690 958.98H1677.9V979.55H1711.8M1711.8 993.26H1694.5V1006.98H1711.8M1677.9 969.27H1672.3V1000.12H1694.5M1711.8 1020.69H1686.8V1034.4H1711.8M1711.8 1048.11H1699.5V1061.82H1711.8M1686.8 1027.54H1682.2V1054.97H1699.5M1672.3 984.69H1647.2V1041.26H1682.2M1612.6 882.71H1596.4V1012.98H1647.2M1581.3 551.09H1546.2V947.84H1596.4"/>
<text x="1750.49" y="1106.78" font-size="43.8" text-anchor="middle">1</text>
<text x="1817.27" y="1106.78" font-size="43.8" text-anchor="middle">3</text>
<text x="1884.05" y="1106.78" font-size="43.8" text-anchor="middle">5</text>
<text x="1950.83" y="1106.78" font-size="43.8" text-anchor="middle">7</text>
<text x="1850.36" y="1146.78" font-size="44" text-anchor="middle" textLength="366" lengthAdjust="spacing">Days after grafting</text>
<rect x="1647.6" y="1276.3" width="27.03" height="30.1" fill="#FDE725"/>
<rect x="1674.33" y="1276.3" width="27.03" height="30.1" fill="#DDE318"/>
<rect x="1701.07" y="1276.3" width="27.03" height="30.1" fill="#ADDC30"/>
<rect x="1727.8" y="1276.3" width="27.03" height="30.1" fill="#7FD34E"/>
<rect x="1754.53" y="1276.3" width="27.03" height="30.1" fill="#54C568"/>
<rect x="1781.27" y="1276.3" width="27.03" height="30.1" fill="#34B679"/>
<rect x="1808" y="1276.3" width="27.03" height="30.1" fill="#22A384"/>
<rect x="1834.73" y="1276.3" width="27.03" height="30.1" fill="#21908C"/>
<rect x="1861.47" y="1276.3" width="27.03" height="30.1" fill="#277F8E"/>
<rect x="1888.2" y="1276.3" width="27.03" height="30.1" fill="#2E6E8E"/>
<rect x="1914.93" y="1276.3" width="27.03" height="30.1" fill="#365C8D"/>
<rect x="1941.67" y="1276.3" width="27.03" height="30.1" fill="#3F4889"/>
<rect x="1968.4" y="1276.3" width="27.03" height="30.1" fill="#46337E"/>
<rect x="1995.13" y="1276.3" width="27.03" height="30.1" fill="#481B6D"/>
<rect x="2021.87" y="1276.3" width="26.73" height="30.1" fill="#440154"/>
<rect x="1647.6" y="1276.3" width="401" height="30.1" fill="none" stroke="#000" stroke-width="2"/>
<text x="1657.6" y="1335.9" font-size="27.8" text-anchor="middle" textLength="51.25" lengthAdjust="spacingAndGlyphs">-1.5</text>
<text x="1723.7" y="1335.9" font-size="27.8" text-anchor="middle" textLength="26.45" lengthAdjust="spacingAndGlyphs">-1</text>
<text x="1785.8" y="1335.9" font-size="27.8" text-anchor="middle" textLength="51.25" lengthAdjust="spacingAndGlyphs">-0.5</text>
<text x="1847.9" y="1335.9" font-size="27.8" text-anchor="middle" textLength="16.54" lengthAdjust="spacingAndGlyphs">0</text>
<text x="1910" y="1335.9" font-size="27.8" text-anchor="middle" textLength="41.35" lengthAdjust="spacingAndGlyphs">0.5</text>
<text x="1972.1" y="1335.9" font-size="27.8" text-anchor="middle" textLength="16.54" lengthAdjust="spacingAndGlyphs">1</text>
<text x="2034.2" y="1335.9" font-size="27.8" text-anchor="middle" textLength="41.35" lengthAdjust="spacingAndGlyphs">1.5</text>
<path d="M1661.6 1306.4V1311M1723.7 1306.4V1311M1785.8 1306.4V1311M1847.9 1306.4V1311M1910 1306.4V1311M1972.1 1306.4V1311M2034.2 1306.4V1311" stroke="#000" stroke-width="2.6" fill="none"/>
<text x="1582" y="1301.5" font-size="28.5">Low</text>
<text x="2059" y="1298.3" font-size="28.5">High</text>
<text x="1847.9" y="1371.6" font-size="29.4" text-anchor="middle">Z-score</text>
</svg></body></html>
